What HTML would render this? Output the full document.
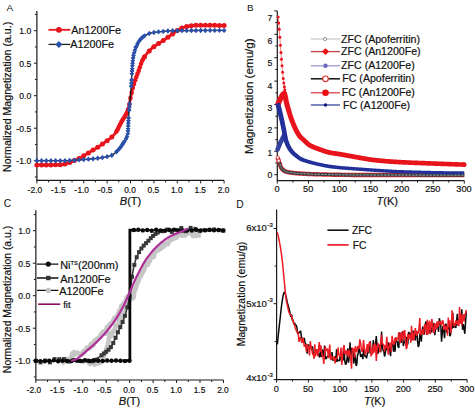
<!DOCTYPE html>
<html><head><meta charset="utf-8"><style>
html,body{margin:0;padding:0;background:#fff;width:475px;height:411px;overflow:hidden}
svg{display:block}
text{font-family:"Liberation Sans",sans-serif;fill:#111;stroke:#111;stroke-width:0.2px}
</style></head><body>
<svg width="475" height="411" viewBox="0 0 475 411">
<rect width="475" height="411" fill="#fff"/>
<path d="M36.9,11 L36.9,180.4 L224,180.4" fill="none" stroke="#1a1a1a" stroke-width="1.2"/>
<path d="M36.9,180.4 V183.4 M60.3,180.4 V183.4 M83.7,180.4 V183.4 M107.1,180.4 V183.4 M130.5,180.4 V183.4 M153.9,180.4 V183.4 M177.3,180.4 V183.4 M200.7,180.4 V183.4 M224.1,180.4 V183.4 M48.6,180.4 V182.4 M72,180.4 V182.4 M95.4,180.4 V182.4 M118.8,180.4 V182.4 M142.2,180.4 V182.4 M165.6,180.4 V182.4 M189,180.4 V182.4 M212.4,180.4 V182.4 M36.9,160.7 H33.9 M36.9,128.2 H33.9 M36.9,95.7 H33.9 M36.9,63.2 H33.9 M36.9,30.7 H33.9 M36.9,176.95 H34.9 M36.9,144.45 H34.9 M36.9,111.95 H34.9 M36.9,79.45 H34.9 M36.9,46.95 H34.9 M36.9,14.45 H34.9 " fill="none" stroke="#1a1a1a" stroke-width="1"/>
<text transform="translate(36.4,193.2) scale(0.93,1)" font-size="9.0" text-anchor="middle">2.0</text>
<text transform="translate(30.34,193.2) scale(0.93,1)" font-size="9.0" text-anchor="end">-</text>
<text transform="translate(59.8,193.2) scale(0.93,1)" font-size="9.0" text-anchor="middle">1.5</text>
<text transform="translate(53.74,193.2) scale(0.93,1)" font-size="9.0" text-anchor="end">-</text>
<text transform="translate(83.2,193.2) scale(0.93,1)" font-size="9.0" text-anchor="middle">1.0</text>
<text transform="translate(77.14,193.2) scale(0.93,1)" font-size="9.0" text-anchor="end">-</text>
<text transform="translate(106.6,193.2) scale(0.93,1)" font-size="9.0" text-anchor="middle">0.5</text>
<text transform="translate(100.54,193.2) scale(0.93,1)" font-size="9.0" text-anchor="end">-</text>
<text transform="translate(130,193.2) scale(0.93,1)" font-size="9.0" text-anchor="middle">0.0</text>
<text transform="translate(153.4,193.2) scale(0.93,1)" font-size="9.0" text-anchor="middle">0.5</text>
<text transform="translate(176.8,193.2) scale(0.93,1)" font-size="9.0" text-anchor="middle">1.0</text>
<text transform="translate(200.2,193.2) scale(0.93,1)" font-size="9.0" text-anchor="middle">1.5</text>
<text transform="translate(223.6,193.2) scale(0.93,1)" font-size="9.0" text-anchor="middle">2.0</text>
<text transform="translate(31.2,164.4) scale(0.92,1)" font-size="9.4" text-anchor="end">-1.0</text>
<text transform="translate(31.2,131.9) scale(0.92,1)" font-size="9.4" text-anchor="end">-0.5</text>
<text transform="translate(31.2,99.4) scale(0.92,1)" font-size="9.4" text-anchor="end">0.0</text>
<text transform="translate(31.2,66.9) scale(0.92,1)" font-size="9.4" text-anchor="end">0.5</text>
<text transform="translate(31.2,34.4) scale(0.92,1)" font-size="9.4" text-anchor="end">1.0</text>
<text x="6.4" y="11" font-size="9.9" text-anchor="start" style="stroke:none">A</text>
<text transform="translate(11.3,96.9) rotate(-90)" font-size="10.6" text-anchor="middle">Normalized Magnetization (a.u.)</text>
<text x="130.5" y="204.8" font-size="11.0" text-anchor="middle"><tspan font-style="italic">B</tspan>(T)</text>
<path d="M36.9,164.93 L37.13,164.92 L37.37,164.92 L37.6,164.92 L37.84,164.92 L38.07,164.92 L38.3,164.92 L38.54,164.92 L38.77,164.92 L39.01,164.92 L39.24,164.92 L39.47,164.92 L39.71,164.92 L39.94,164.92 L40.18,164.92 L40.41,164.92 L40.64,164.92 L40.88,164.92 L41.11,164.92 L41.35,164.92 L41.58,164.92 L41.81,164.92 L42.05,164.92 L42.28,164.92 L42.52,164.92 L42.75,164.92 L42.98,164.92 L43.22,164.92 L43.45,164.92 L43.69,164.91 L43.92,164.91 L44.15,164.91 L44.39,164.91 L44.62,164.91 L44.86,164.91 L45.09,164.91 L45.32,164.91 L45.56,164.91 L45.79,164.91 L46.03,164.91 L46.26,164.91 L46.49,164.9 L46.73,164.9 L46.96,164.9 L47.2,164.9 L47.43,164.9 L47.66,164.9 L47.9,164.9 L48.13,164.9 L48.37,164.89 L48.6,164.89 L48.83,164.89 L49.07,164.89 L49.3,164.89 L49.54,164.89 L49.77,164.89 L50,164.89 L50.24,164.88 L50.47,164.88 L50.71,164.88 L50.94,164.88 L51.17,164.88 L51.41,164.88 L51.64,164.87 L51.88,164.87 L52.11,164.87 L52.34,164.87 L52.58,164.87 L52.81,164.87 L53.05,164.86 L53.28,164.86 L53.51,164.86 L53.75,164.86 L53.98,164.86 L54.22,164.85 L54.45,164.85 L54.68,164.85 L54.92,164.85 L55.15,164.85 L55.39,164.84 L55.62,164.84 L55.85,164.84 L56.09,164.84 L56.32,164.83 L56.56,164.83 L56.79,164.83 L57.02,164.83 L57.26,164.83 L57.49,164.82 L57.73,164.82 L57.96,164.82 L58.19,164.82 L58.43,164.81 L58.66,164.81 L58.9,164.81 L59.13,164.81 L59.36,164.8 L59.6,164.8 L59.83,164.8 L60.07,164.79 L60.3,164.79 L60.53,164.78 L60.77,164.77 L61,164.75 L61.24,164.73 L61.47,164.71 L61.7,164.69 L61.94,164.66 L62.17,164.63 L62.41,164.59 L62.64,164.56 L62.87,164.51 L63.11,164.47 L63.34,164.43 L63.58,164.38 L63.81,164.33 L64.04,164.28 L64.28,164.22 L64.51,164.16 L64.75,164.1 L64.98,164.04 L65.21,163.98 L65.45,163.91 L65.68,163.84 L65.92,163.77 L66.15,163.7 L66.38,163.62 L66.62,163.55 L66.85,163.47 L67.09,163.39 L67.32,163.31 L67.55,163.23 L67.79,163.15 L68.02,163.06 L68.26,162.98 L68.49,162.89 L68.72,162.8 L68.96,162.72 L69.19,162.63 L69.43,162.54 L69.66,162.44 L69.89,162.35 L70.13,162.26 L70.36,162.17 L70.6,162.07 L70.83,161.98 L71.06,161.88 L71.3,161.79 L71.53,161.69 L71.77,161.6 L72,161.5 L72.23,161.41 L72.47,161.31 L72.7,161.22 L72.94,161.12 L73.17,161.03 L73.4,160.93 L73.64,160.84 L73.87,160.74 L74.11,160.65 L74.34,160.56 L74.57,160.47 L74.81,160.38 L75.04,160.28 L75.28,160.19 L75.51,160.09 L75.74,160 L75.98,159.9 L76.21,159.79 L76.45,159.69 L76.68,159.58 L76.91,159.48 L77.15,159.37 L77.38,159.26 L77.62,159.14 L77.85,159.03 L78.08,158.91 L78.32,158.8 L78.55,158.68 L78.79,158.56 L79.02,158.44 L79.25,158.31 L79.49,158.19 L79.72,158.06 L79.96,157.94 L80.19,157.81 L80.42,157.68 L80.66,157.55 L80.89,157.42 L81.13,157.29 L81.36,157.15 L81.59,157.02 L81.83,156.88 L82.06,156.75 L82.3,156.61 L82.53,156.47 L82.76,156.34 L83,156.2 L83.23,156.06 L83.47,155.92 L83.7,155.78 L83.93,155.64 L84.17,155.5 L84.4,155.35 L84.64,155.21 L84.87,155.07 L85.1,154.93 L85.34,154.78 L85.57,154.64 L85.81,154.5 L86.04,154.35 L86.27,154.21 L86.51,154.07 L86.74,153.92 L86.98,153.78 L87.21,153.64 L87.44,153.49 L87.68,153.35 L87.91,153.21 L88.15,153.07 L88.38,152.93 L88.61,152.78 L88.85,152.64 L89.08,152.5 L89.32,152.36 L89.55,152.22 L89.78,152.08 L90.02,151.94 L90.25,151.8 L90.49,151.66 L90.72,151.52 L90.95,151.38 L91.19,151.24 L91.42,151.1 L91.66,150.96 L91.89,150.82 L92.12,150.68 L92.36,150.54 L92.59,150.4 L92.83,150.26 L93.06,150.11 L93.29,149.97 L93.53,149.83 L93.76,149.69 L94,149.54 L94.23,149.4 L94.46,149.26 L94.7,149.11 L94.93,148.97 L95.17,148.82 L95.4,148.68 L95.63,148.53 L95.87,148.38 L96.1,148.24 L96.34,148.09 L96.57,147.94 L96.8,147.79 L97.04,147.64 L97.27,147.5 L97.51,147.35 L97.74,147.2 L97.97,147.04 L98.21,146.89 L98.44,146.74 L98.68,146.59 L98.91,146.43 L99.14,146.28 L99.38,146.12 L99.61,145.97 L99.85,145.81 L100.08,145.66 L100.31,145.5 L100.55,145.34 L100.78,145.18 L101.02,145.02 L101.25,144.86 L101.48,144.7 L101.72,144.54 L101.95,144.37 L102.19,144.21 L102.42,144.05 L102.65,143.88 L102.89,143.71 L103.12,143.55 L103.36,143.38 L103.59,143.21 L103.82,143.04 L104.06,142.87 L104.29,142.69 L104.53,142.52 L104.76,142.35 L104.99,142.18 L105.23,142.01 L105.46,141.85 L105.7,141.68 L105.93,141.51 L106.16,141.34 L106.4,141.18 L106.63,141.01 L106.87,140.84 L107.1,140.67 L107.33,140.51 L107.57,140.34 L107.8,140.17 L108.04,140 L108.27,139.82 L108.5,139.65 L108.74,139.47 L108.97,139.3 L109.21,139.12 L109.44,138.94 L109.67,138.75 L109.91,138.57 L110.14,138.38 L110.38,138.19 L110.61,137.99 L110.84,137.8 L111.08,137.6 L111.31,137.39 L111.55,137.19 L111.78,136.98 L112.01,136.76 L112.25,136.54 L112.48,136.32 L112.72,136.1 L112.95,135.86 L113.18,135.63 L113.42,135.39 L113.65,135.14 L113.89,134.89 L114.12,134.64 L114.35,134.38 L114.59,134.11 L114.82,133.84 L115.06,133.55 L115.29,133.25 L115.52,132.94 L115.76,132.6 L115.99,132.25 L116.23,131.88 L116.46,131.49 L116.69,131.09 L116.93,130.68 L117.16,130.26 L117.4,129.83 L117.63,129.39 L117.86,128.94 L118.1,128.48 L118.33,128.02 L118.57,127.55 L118.8,127.08 L119.03,126.61 L119.27,126.13 L119.5,125.65 L119.74,125.18 L119.97,124.7 L120.2,124.23 L120.44,123.76 L120.67,123.29 L120.91,122.84 L121.14,122.38 L121.37,121.94 L121.61,121.5 L121.84,121.08 L122.08,120.68 L122.31,120.28 L122.54,119.9 L122.78,119.52 L123.01,119.16 L123.25,118.8 L123.48,118.44 L123.71,118.09 L123.95,117.73 L124.18,117.38 L124.42,117.02 L124.65,116.66 L124.88,116.29 L125.12,115.91 L125.35,115.53 L125.59,115.13 L125.82,114.71 L126.05,114.28 L126.29,113.84 L126.52,113.37 L126.76,112.88 L126.99,112.37 L127.22,111.84 L127.46,111.28 L127.69,110.69 L127.93,110.07 L128.16,109.42 L128.39,108.69 L128.63,107.79 L128.86,106.75 L129.1,105.59 L129.33,104.36 L129.56,103.08 L129.8,101.78 L130.03,100.49 L130.27,99.24 L130.5,98.07 L130.73,96.99 L130.97,95.95 L131.2,94.91 L131.44,93.89 L131.67,92.87 L131.9,91.87 L132.14,90.89 L132.37,89.92 L132.61,88.98 L132.84,88.06 L133.07,87.16 L133.31,86.3 L133.54,85.46 L133.78,84.66 L134.01,83.88 L134.24,83.12 L134.48,82.38 L134.71,81.66 L134.95,80.95 L135.18,80.26 L135.41,79.58 L135.65,78.91 L135.88,78.25 L136.12,77.61 L136.35,76.97 L136.58,76.33 L136.82,75.7 L137.05,75.08 L137.29,74.45 L137.52,73.83 L137.75,73.21 L137.99,72.58 L138.22,71.95 L138.46,71.32 L138.69,70.67 L138.92,70.02 L139.16,69.36 L139.39,68.67 L139.63,67.98 L139.86,67.27 L140.09,66.55 L140.33,65.84 L140.56,65.14 L140.8,64.44 L141.03,63.77 L141.26,63.11 L141.5,62.49 L141.73,61.89 L141.97,61.34 L142.2,60.82 L142.43,60.36 L142.67,59.94 L142.9,59.52 L143.14,59.11 L143.37,58.72 L143.6,58.33 L143.84,57.94 L144.07,57.57 L144.31,57.2 L144.54,56.84 L144.77,56.49 L145.01,56.14 L145.24,55.8 L145.48,55.47 L145.71,55.14 L145.94,54.82 L146.18,54.51 L146.41,54.2 L146.65,53.9 L146.88,53.6 L147.11,53.31 L147.35,53.03 L147.58,52.75 L147.82,52.47 L148.05,52.2 L148.28,51.94 L148.52,51.68 L148.75,51.42 L148.99,51.17 L149.22,50.92 L149.45,50.68 L149.69,50.44 L149.92,50.2 L150.16,49.97 L150.39,49.74 L150.62,49.51 L150.86,49.29 L151.09,49.07 L151.33,48.85 L151.56,48.64 L151.79,48.42 L152.03,48.21 L152.26,48 L152.5,47.79 L152.73,47.59 L152.96,47.39 L153.2,47.19 L153.43,47 L153.67,46.81 L153.9,46.63 L154.13,46.45 L154.37,46.27 L154.6,46.09 L154.84,45.92 L155.07,45.75 L155.3,45.59 L155.54,45.42 L155.77,45.26 L156.01,45.1 L156.24,44.94 L156.47,44.79 L156.71,44.63 L156.94,44.48 L157.18,44.33 L157.41,44.18 L157.64,44.03 L157.88,43.89 L158.11,43.74 L158.35,43.6 L158.58,43.45 L158.81,43.31 L159.05,43.16 L159.28,43.02 L159.52,42.88 L159.75,42.73 L159.98,42.59 L160.22,42.44 L160.45,42.3 L160.69,42.15 L160.92,42 L161.15,41.86 L161.39,41.71 L161.62,41.55 L161.86,41.4 L162.09,41.25 L162.32,41.09 L162.56,40.93 L162.79,40.78 L163.03,40.61 L163.26,40.45 L163.49,40.29 L163.73,40.13 L163.96,39.96 L164.2,39.8 L164.43,39.64 L164.66,39.47 L164.9,39.31 L165.13,39.14 L165.37,38.98 L165.6,38.81 L165.83,38.65 L166.07,38.48 L166.3,38.31 L166.54,38.15 L166.77,37.98 L167,37.82 L167.24,37.65 L167.47,37.49 L167.71,37.32 L167.94,37.16 L168.17,36.99 L168.41,36.83 L168.64,36.66 L168.88,36.5 L169.11,36.33 L169.34,36.17 L169.58,36.01 L169.81,35.85 L170.05,35.68 L170.28,35.52 L170.51,35.36 L170.75,35.2 L170.98,35.04 L171.22,34.89 L171.45,34.73 L171.68,34.57 L171.92,34.41 L172.15,34.26 L172.39,34.1 L172.62,33.95 L172.85,33.8 L173.09,33.64 L173.32,33.48 L173.56,33.32 L173.79,33.15 L174.02,32.99 L174.26,32.82 L174.49,32.65 L174.73,32.48 L174.96,32.31 L175.19,32.14 L175.43,31.97 L175.66,31.8 L175.9,31.63 L176.13,31.46 L176.36,31.29 L176.6,31.12 L176.83,30.95 L177.07,30.78 L177.3,30.62 L177.53,30.45 L177.77,30.29 L178,30.13 L178.24,29.97 L178.47,29.81 L178.7,29.66 L178.94,29.51 L179.17,29.36 L179.41,29.21 L179.64,29.07 L179.87,28.93 L180.11,28.8 L180.34,28.67 L180.58,28.55 L180.81,28.42 L181.04,28.31 L181.28,28.2 L181.51,28.09 L181.75,27.99 L181.98,27.9 L182.21,27.81 L182.45,27.73 L182.68,27.65 L182.92,27.58 L183.15,27.51 L183.38,27.45 L183.62,27.38 L183.85,27.32 L184.09,27.25 L184.32,27.19 L184.55,27.12 L184.79,27.06 L185.02,27 L185.26,26.93 L185.49,26.87 L185.72,26.81 L185.96,26.75 L186.19,26.69 L186.43,26.63 L186.66,26.57 L186.89,26.51 L187.13,26.46 L187.36,26.4 L187.6,26.35 L187.83,26.29 L188.06,26.24 L188.3,26.19 L188.53,26.14 L188.77,26.09 L189,26.04 L189.23,25.99 L189.47,25.95 L189.7,25.9 L189.94,25.86 L190.17,25.82 L190.4,25.78 L190.64,25.74 L190.87,25.7 L191.11,25.66 L191.34,25.63 L191.57,25.6 L191.81,25.56 L192.04,25.53 L192.28,25.51 L192.51,25.48 L192.74,25.45 L192.98,25.43 L193.21,25.41 L193.45,25.39 L193.68,25.37 L193.91,25.36 L194.15,25.34 L194.38,25.33 L194.62,25.32 L194.85,25.31 L195.08,25.31 L195.32,25.31 L195.55,25.31 L195.79,25.31 L196.02,25.31 L196.25,25.31 L196.49,25.31 L196.72,25.31 L196.96,25.31 L197.19,25.31 L197.42,25.31 L197.66,25.31 L197.89,25.31 L198.13,25.31 L198.36,25.31 L198.59,25.31 L198.83,25.31 L199.06,25.31 L199.3,25.31 L199.53,25.31 L199.76,25.31 L200,25.31 L200.23,25.31 L200.47,25.31 L200.7,25.31 L200.93,25.31 L201.17,25.31 L201.4,25.31 L201.64,25.31 L201.87,25.31 L202.1,25.31 L202.34,25.31 L202.57,25.31 L202.81,25.31 L203.04,25.31 L203.27,25.31 L203.51,25.31 L203.74,25.31 L203.98,25.31 L204.21,25.31 L204.44,25.31 L204.68,25.31 L204.91,25.31 L205.15,25.31 L205.38,25.31 L205.61,25.31 L205.85,25.31 L206.08,25.31 L206.32,25.32 L206.55,25.32 L206.78,25.32 L207.02,25.32 L207.25,25.32 L207.49,25.32 L207.72,25.32 L207.95,25.32 L208.19,25.32 L208.42,25.32 L208.66,25.32 L208.89,25.32 L209.12,25.33 L209.36,25.33 L209.59,25.33 L209.83,25.33 L210.06,25.33 L210.29,25.33 L210.53,25.33 L210.76,25.33 L211,25.34 L211.23,25.34 L211.46,25.34 L211.7,25.34 L211.93,25.34 L212.17,25.34 L212.4,25.35 L212.63,25.35 L212.87,25.35 L213.1,25.35 L213.34,25.35 L213.57,25.35 L213.8,25.36 L214.04,25.36 L214.27,25.36 L214.51,25.36 L214.74,25.36 L214.97,25.37 L215.21,25.37 L215.44,25.37 L215.68,25.37 L215.91,25.38 L216.14,25.38 L216.38,25.38 L216.61,25.38 L216.85,25.39 L217.08,25.39 L217.31,25.39 L217.55,25.39 L217.78,25.4 L218.02,25.4 L218.25,25.4 L218.48,25.41 L218.72,25.41 L218.95,25.41 L219.19,25.42 L219.42,25.42 L219.65,25.42 L219.89,25.43 L220.12,25.43 L220.36,25.43 L220.59,25.44 L220.82,25.44 L221.06,25.44 L221.29,25.45 L221.53,25.45 L221.76,25.46 L221.99,25.46 L222.23,25.46 L222.46,25.47 L222.7,25.47 L222.93,25.48 L223.16,25.48 L223.4,25.49 L223.63,25.49 L223.87,25.5 L224.1,25.5" fill="none" stroke="#e8141c" stroke-width="2.8"/>
<g fill="#e8141c"><circle cx="36.9" cy="164.93" r="2.5"/><circle cx="41.58" cy="164.92" r="2.5"/><circle cx="46.26" cy="164.91" r="2.5"/><circle cx="50.94" cy="164.88" r="2.5"/><circle cx="55.62" cy="164.84" r="2.5"/><circle cx="60.3" cy="164.79" r="2.5"/><circle cx="64.98" cy="164.04" r="2.5"/><circle cx="69.66" cy="162.44" r="2.5"/><circle cx="74.34" cy="160.56" r="2.5"/><circle cx="79.02" cy="158.44" r="2.5"/><circle cx="83.7" cy="155.78" r="2.5"/><circle cx="88.38" cy="152.93" r="2.5"/><circle cx="93.06" cy="150.11" r="2.5"/><circle cx="97.74" cy="147.2" r="2.5"/><circle cx="102.42" cy="144.05" r="2.5"/><circle cx="107.1" cy="140.67" r="2.5"/><circle cx="111.78" cy="136.98" r="2.5"/><circle cx="144.54" cy="56.84" r="2.5"/><circle cx="149.22" cy="50.92" r="2.5"/><circle cx="153.9" cy="46.63" r="2.5"/><circle cx="158.58" cy="43.45" r="2.5"/><circle cx="163.26" cy="40.45" r="2.5"/><circle cx="167.94" cy="37.16" r="2.5"/><circle cx="172.62" cy="33.95" r="2.5"/><circle cx="177.3" cy="30.62" r="2.5"/><circle cx="181.98" cy="27.9" r="2.5"/><circle cx="186.66" cy="26.57" r="2.5"/><circle cx="191.34" cy="25.63" r="2.5"/><circle cx="196.02" cy="25.31" r="2.5"/><circle cx="200.7" cy="25.31" r="2.5"/><circle cx="205.38" cy="25.31" r="2.5"/><circle cx="210.06" cy="25.33" r="2.5"/><circle cx="214.74" cy="25.36" r="2.5"/><circle cx="219.42" cy="25.42" r="2.5"/><circle cx="224.1" cy="25.5" r="2.5"/><circle cx="116.46" cy="131.49" r="2.3"/><circle cx="117.63" cy="129.39" r="2.3"/><circle cx="118.8" cy="127.08" r="2.3"/><circle cx="119.97" cy="124.7" r="2.3"/><circle cx="121.14" cy="122.38" r="2.3"/><circle cx="122.31" cy="120.28" r="2.3"/><circle cx="123.48" cy="118.44" r="2.3"/><circle cx="124.65" cy="116.66" r="2.3"/><circle cx="125.82" cy="114.71" r="2.3"/><circle cx="126.99" cy="112.37" r="2.3"/><circle cx="128.16" cy="109.42" r="2.3"/><circle cx="129.33" cy="104.36" r="2.3"/><circle cx="130.5" cy="98.07" r="2.3"/><circle cx="131.67" cy="92.87" r="2.3"/><circle cx="132.84" cy="88.06" r="2.3"/><circle cx="134.01" cy="83.88" r="2.3"/><circle cx="135.18" cy="80.26" r="2.3"/><circle cx="136.35" cy="76.97" r="2.3"/><circle cx="137.52" cy="73.83" r="2.3"/><circle cx="138.69" cy="70.67" r="2.3"/><circle cx="139.86" cy="67.27" r="2.3"/><circle cx="141.03" cy="63.77" r="2.3"/><circle cx="142.2" cy="60.82" r="2.3"/><circle cx="143.37" cy="58.72" r="2.3"/></g>
<path d="M36.9,160.7 L37.13,160.7 L37.37,160.7 L37.6,160.7 L37.84,160.7 L38.07,160.7 L38.3,160.7 L38.54,160.7 L38.77,160.7 L39.01,160.7 L39.24,160.7 L39.47,160.7 L39.71,160.7 L39.94,160.7 L40.18,160.7 L40.41,160.7 L40.64,160.7 L40.88,160.7 L41.11,160.7 L41.35,160.7 L41.58,160.7 L41.81,160.7 L42.05,160.7 L42.28,160.7 L42.52,160.7 L42.75,160.7 L42.98,160.7 L43.22,160.7 L43.45,160.7 L43.69,160.7 L43.92,160.7 L44.15,160.7 L44.39,160.7 L44.62,160.7 L44.86,160.7 L45.09,160.7 L45.32,160.7 L45.56,160.7 L45.79,160.7 L46.03,160.7 L46.26,160.7 L46.49,160.7 L46.73,160.7 L46.96,160.7 L47.2,160.7 L47.43,160.7 L47.66,160.7 L47.9,160.7 L48.13,160.7 L48.37,160.7 L48.6,160.7 L48.83,160.7 L49.07,160.7 L49.3,160.7 L49.54,160.7 L49.77,160.7 L50,160.7 L50.24,160.7 L50.47,160.7 L50.71,160.7 L50.94,160.7 L51.17,160.7 L51.41,160.7 L51.64,160.7 L51.88,160.7 L52.11,160.7 L52.34,160.7 L52.58,160.7 L52.81,160.7 L53.05,160.7 L53.28,160.7 L53.51,160.7 L53.75,160.7 L53.98,160.7 L54.22,160.7 L54.45,160.7 L54.68,160.7 L54.92,160.7 L55.15,160.7 L55.39,160.7 L55.62,160.7 L55.85,160.7 L56.09,160.7 L56.32,160.7 L56.56,160.7 L56.79,160.7 L57.02,160.7 L57.26,160.7 L57.49,160.7 L57.73,160.7 L57.96,160.7 L58.19,160.7 L58.43,160.7 L58.66,160.7 L58.9,160.7 L59.13,160.7 L59.36,160.7 L59.6,160.7 L59.83,160.7 L60.07,160.7 L60.3,160.7 L60.53,160.7 L60.77,160.7 L61,160.7 L61.24,160.7 L61.47,160.7 L61.7,160.69 L61.94,160.69 L62.17,160.69 L62.41,160.69 L62.64,160.68 L62.87,160.68 L63.11,160.68 L63.34,160.67 L63.58,160.67 L63.81,160.67 L64.04,160.66 L64.28,160.66 L64.51,160.65 L64.75,160.65 L64.98,160.64 L65.21,160.64 L65.45,160.63 L65.68,160.62 L65.92,160.62 L66.15,160.61 L66.38,160.6 L66.62,160.59 L66.85,160.59 L67.09,160.58 L67.32,160.57 L67.55,160.56 L67.79,160.55 L68.02,160.55 L68.26,160.54 L68.49,160.53 L68.72,160.52 L68.96,160.51 L69.19,160.5 L69.43,160.49 L69.66,160.48 L69.89,160.47 L70.13,160.46 L70.36,160.45 L70.6,160.43 L70.83,160.42 L71.06,160.41 L71.3,160.4 L71.53,160.39 L71.77,160.38 L72,160.36 L72.23,160.35 L72.47,160.34 L72.7,160.32 L72.94,160.31 L73.17,160.3 L73.4,160.28 L73.64,160.27 L73.87,160.26 L74.11,160.24 L74.34,160.23 L74.57,160.22 L74.81,160.2 L75.04,160.19 L75.28,160.17 L75.51,160.16 L75.74,160.14 L75.98,160.13 L76.21,160.11 L76.45,160.1 L76.68,160.08 L76.91,160.06 L77.15,160.05 L77.38,160.03 L77.62,160.02 L77.85,160 L78.08,159.98 L78.32,159.97 L78.55,159.95 L78.79,159.93 L79.02,159.92 L79.25,159.9 L79.49,159.88 L79.72,159.86 L79.96,159.85 L80.19,159.83 L80.42,159.81 L80.66,159.79 L80.89,159.78 L81.13,159.76 L81.36,159.74 L81.59,159.72 L81.83,159.7 L82.06,159.69 L82.3,159.67 L82.53,159.65 L82.76,159.63 L83,159.61 L83.23,159.59 L83.47,159.57 L83.7,159.56 L83.93,159.54 L84.17,159.52 L84.4,159.5 L84.64,159.48 L84.87,159.46 L85.1,159.44 L85.34,159.42 L85.57,159.4 L85.81,159.38 L86.04,159.36 L86.27,159.35 L86.51,159.33 L86.74,159.31 L86.98,159.29 L87.21,159.27 L87.44,159.25 L87.68,159.23 L87.91,159.21 L88.15,159.19 L88.38,159.17 L88.61,159.15 L88.85,159.13 L89.08,159.11 L89.32,159.09 L89.55,159.07 L89.78,159.05 L90.02,159.03 L90.25,159.01 L90.49,158.99 L90.72,158.97 L90.95,158.95 L91.19,158.93 L91.42,158.91 L91.66,158.89 L91.89,158.87 L92.12,158.85 L92.36,158.83 L92.59,158.81 L92.83,158.78 L93.06,158.76 L93.29,158.74 L93.53,158.72 L93.76,158.69 L94,158.67 L94.23,158.65 L94.46,158.63 L94.7,158.6 L94.93,158.58 L95.17,158.55 L95.4,158.53 L95.63,158.5 L95.87,158.48 L96.1,158.45 L96.34,158.43 L96.57,158.4 L96.8,158.38 L97.04,158.35 L97.27,158.32 L97.51,158.29 L97.74,158.26 L97.97,158.24 L98.21,158.21 L98.44,158.18 L98.68,158.15 L98.91,158.12 L99.14,158.09 L99.38,158.05 L99.61,158.02 L99.85,157.99 L100.08,157.96 L100.31,157.92 L100.55,157.89 L100.78,157.85 L101.02,157.82 L101.25,157.78 L101.48,157.75 L101.72,157.71 L101.95,157.67 L102.19,157.63 L102.42,157.59 L102.65,157.56 L102.89,157.52 L103.12,157.47 L103.36,157.43 L103.59,157.39 L103.82,157.35 L104.06,157.3 L104.29,157.26 L104.53,157.21 L104.76,157.17 L104.99,157.12 L105.23,157.08 L105.46,157.03 L105.7,156.98 L105.93,156.93 L106.16,156.88 L106.4,156.83 L106.63,156.78 L106.87,156.72 L107.1,156.67 L107.33,156.61 L107.57,156.56 L107.8,156.5 L108.04,156.45 L108.27,156.39 L108.5,156.33 L108.74,156.27 L108.97,156.21 L109.21,156.15 L109.44,156.08 L109.67,156.02 L109.91,155.96 L110.14,155.89 L110.38,155.82 L110.61,155.75 L110.84,155.67 L111.08,155.58 L111.31,155.48 L111.55,155.37 L111.78,155.26 L112.01,155.13 L112.25,155 L112.48,154.86 L112.72,154.72 L112.95,154.57 L113.18,154.41 L113.42,154.24 L113.65,154.07 L113.89,153.89 L114.12,153.71 L114.35,153.53 L114.59,153.34 L114.82,153.14 L115.06,152.94 L115.29,152.74 L115.52,152.54 L115.76,152.33 L115.99,152.12 L116.23,151.91 L116.46,151.69 L116.69,151.48 L116.93,151.26 L117.16,151.04 L117.4,150.82 L117.63,150.6 L117.86,150.37 L118.1,150.13 L118.33,149.88 L118.57,149.63 L118.8,149.37 L119.03,149.1 L119.27,148.83 L119.5,148.54 L119.74,148.26 L119.97,147.96 L120.2,147.66 L120.44,147.35 L120.67,147.04 L120.91,146.72 L121.14,146.39 L121.37,146.06 L121.61,145.72 L121.84,145.37 L122.08,145.02 L122.31,144.66 L122.54,144.3 L122.78,143.93 L123.01,143.56 L123.25,143.18 L123.48,142.79 L123.71,142.4 L123.95,142.01 L124.18,141.61 L124.42,141.2 L124.65,140.81 L124.88,140.47 L125.12,140.14 L125.35,139.82 L125.59,139.5 L125.82,139.16 L126.05,138.79 L126.29,138.37 L126.52,137.89 L126.76,137.34 L126.99,136.71 L127.22,135.97 L127.46,135.13 L127.69,134.15 L127.93,132.4 L128.16,127.95 L128.39,122.19 L128.63,116.84 L128.86,113.12 L129.1,109.96 L129.33,107.11 L129.56,104.5 L129.8,102.04 L130.03,99.67 L130.27,97.3 L130.5,94.86 L130.73,92.27 L130.97,89.45 L131.2,86.33 L131.44,82.69 L131.67,78.28 L131.9,73.72 L132.14,69.7 L132.37,66.16 L132.61,62.84 L132.84,60.11 L133.07,58.26 L133.31,56.77 L133.54,55.44 L133.78,54.25 L134.01,53.2 L134.24,52.25 L134.48,51.4 L134.71,50.62 L134.95,49.9 L135.18,49.22 L135.41,48.58 L135.65,47.95 L135.88,47.35 L136.12,46.77 L136.35,46.21 L136.58,45.67 L136.82,45.16 L137.05,44.66 L137.29,44.19 L137.52,43.74 L137.75,43.3 L137.99,42.88 L138.22,42.48 L138.46,42.1 L138.69,41.73 L138.92,41.38 L139.16,41.04 L139.39,40.72 L139.63,40.42 L139.86,40.12 L140.09,39.84 L140.33,39.57 L140.56,39.3 L140.8,39.04 L141.03,38.79 L141.26,38.54 L141.5,38.3 L141.73,38.07 L141.97,37.85 L142.2,37.63 L142.43,37.42 L142.67,37.22 L142.9,37.02 L143.14,36.83 L143.37,36.65 L143.6,36.48 L143.84,36.31 L144.07,36.15 L144.31,36 L144.54,35.85 L144.77,35.71 L145.01,35.58 L145.24,35.45 L145.48,35.32 L145.71,35.19 L145.94,35.07 L146.18,34.94 L146.41,34.82 L146.65,34.7 L146.88,34.59 L147.11,34.47 L147.35,34.36 L147.58,34.25 L147.82,34.14 L148.05,34.03 L148.28,33.93 L148.52,33.83 L148.75,33.73 L148.99,33.64 L149.22,33.55 L149.45,33.46 L149.69,33.37 L149.92,33.29 L150.16,33.21 L150.39,33.14 L150.62,33.07 L150.86,33 L151.09,32.94 L151.33,32.88 L151.56,32.83 L151.79,32.77 L152.03,32.73 L152.26,32.69 L152.5,32.65 L152.73,32.62 L152.96,32.58 L153.2,32.55 L153.43,32.51 L153.67,32.48 L153.9,32.45 L154.13,32.41 L154.37,32.38 L154.6,32.35 L154.84,32.32 L155.07,32.29 L155.3,32.26 L155.54,32.23 L155.77,32.2 L156.01,32.17 L156.24,32.14 L156.47,32.11 L156.71,32.08 L156.94,32.05 L157.18,32.02 L157.41,31.99 L157.64,31.96 L157.88,31.94 L158.11,31.91 L158.35,31.88 L158.58,31.86 L158.81,31.83 L159.05,31.8 L159.28,31.78 L159.52,31.75 L159.75,31.73 L159.98,31.7 L160.22,31.68 L160.45,31.66 L160.69,31.63 L160.92,31.61 L161.15,31.59 L161.39,31.56 L161.62,31.54 L161.86,31.52 L162.09,31.5 L162.32,31.47 L162.56,31.45 L162.79,31.43 L163.03,31.41 L163.26,31.39 L163.49,31.37 L163.73,31.35 L163.96,31.33 L164.2,31.31 L164.43,31.29 L164.66,31.28 L164.9,31.26 L165.13,31.24 L165.37,31.22 L165.6,31.2 L165.83,31.19 L166.07,31.17 L166.3,31.15 L166.54,31.14 L166.77,31.12 L167,31.11 L167.24,31.09 L167.47,31.08 L167.71,31.06 L167.94,31.05 L168.17,31.03 L168.41,31.02 L168.64,31.01 L168.88,30.99 L169.11,30.98 L169.34,30.97 L169.58,30.95 L169.81,30.94 L170.05,30.93 L170.28,30.92 L170.51,30.91 L170.75,30.9 L170.98,30.89 L171.22,30.88 L171.45,30.87 L171.68,30.86 L171.92,30.85 L172.15,30.84 L172.39,30.83 L172.62,30.82 L172.85,30.81 L173.09,30.8 L173.32,30.79 L173.56,30.79 L173.79,30.78 L174.02,30.77 L174.26,30.76 L174.49,30.76 L174.73,30.75 L174.96,30.75 L175.19,30.74 L175.43,30.73 L175.66,30.73 L175.9,30.72 L176.13,30.72 L176.36,30.72 L176.6,30.71 L176.83,30.71 L177.07,30.7 L177.3,30.7 L177.53,30.7 L177.77,30.69 L178,30.69 L178.24,30.69 L178.47,30.68 L178.7,30.68 L178.94,30.68 L179.17,30.67 L179.41,30.67 L179.64,30.67 L179.87,30.67 L180.11,30.66 L180.34,30.66 L180.58,30.66 L180.81,30.65 L181.04,30.65 L181.28,30.65 L181.51,30.64 L181.75,30.64 L181.98,30.64 L182.21,30.64 L182.45,30.63 L182.68,30.63 L182.92,30.63 L183.15,30.62 L183.38,30.62 L183.62,30.62 L183.85,30.62 L184.09,30.61 L184.32,30.61 L184.55,30.61 L184.79,30.6 L185.02,30.6 L185.26,30.6 L185.49,30.6 L185.72,30.59 L185.96,30.59 L186.19,30.59 L186.43,30.59 L186.66,30.58 L186.89,30.58 L187.13,30.58 L187.36,30.57 L187.6,30.57 L187.83,30.57 L188.06,30.57 L188.3,30.56 L188.53,30.56 L188.77,30.56 L189,30.56 L189.23,30.55 L189.47,30.55 L189.7,30.55 L189.94,30.55 L190.17,30.55 L190.4,30.54 L190.64,30.54 L190.87,30.54 L191.11,30.54 L191.34,30.53 L191.57,30.53 L191.81,30.53 L192.04,30.53 L192.28,30.52 L192.51,30.52 L192.74,30.52 L192.98,30.52 L193.21,30.52 L193.45,30.51 L193.68,30.51 L193.91,30.51 L194.15,30.51 L194.38,30.51 L194.62,30.5 L194.85,30.5 L195.08,30.5 L195.32,30.5 L195.55,30.5 L195.79,30.49 L196.02,30.49 L196.25,30.49 L196.49,30.49 L196.72,30.49 L196.96,30.48 L197.19,30.48 L197.42,30.48 L197.66,30.48 L197.89,30.48 L198.13,30.47 L198.36,30.47 L198.59,30.47 L198.83,30.47 L199.06,30.47 L199.3,30.47 L199.53,30.46 L199.76,30.46 L200,30.46 L200.23,30.46 L200.47,30.46 L200.7,30.46 L200.93,30.45 L201.17,30.45 L201.4,30.45 L201.64,30.45 L201.87,30.45 L202.1,30.45 L202.34,30.44 L202.57,30.44 L202.81,30.44 L203.04,30.44 L203.27,30.44 L203.51,30.44 L203.74,30.44 L203.98,30.43 L204.21,30.43 L204.44,30.43 L204.68,30.43 L204.91,30.43 L205.15,30.43 L205.38,30.43 L205.61,30.43 L205.85,30.42 L206.08,30.42 L206.32,30.42 L206.55,30.42 L206.78,30.42 L207.02,30.42 L207.25,30.42 L207.49,30.42 L207.72,30.41 L207.95,30.41 L208.19,30.41 L208.42,30.41 L208.66,30.41 L208.89,30.41 L209.12,30.41 L209.36,30.41 L209.59,30.41 L209.83,30.41 L210.06,30.4 L210.29,30.4 L210.53,30.4 L210.76,30.4 L211,30.4 L211.23,30.4 L211.46,30.4 L211.7,30.4 L211.93,30.4 L212.17,30.4 L212.4,30.4 L212.63,30.39 L212.87,30.39 L213.1,30.39 L213.34,30.39 L213.57,30.39 L213.8,30.39 L214.04,30.39 L214.27,30.39 L214.51,30.39 L214.74,30.39 L214.97,30.39 L215.21,30.39 L215.44,30.39 L215.68,30.39 L215.91,30.38 L216.14,30.38 L216.38,30.38 L216.61,30.38 L216.85,30.38 L217.08,30.38 L217.31,30.38 L217.55,30.38 L217.78,30.38 L218.02,30.38 L218.25,30.38 L218.48,30.38 L218.72,30.38 L218.95,30.38 L219.19,30.38 L219.42,30.38 L219.65,30.38 L219.89,30.38 L220.12,30.38 L220.36,30.38 L220.59,30.38 L220.82,30.38 L221.06,30.38 L221.29,30.38 L221.53,30.38 L221.76,30.38 L221.99,30.38 L222.23,30.38 L222.46,30.38 L222.7,30.38 L222.93,30.38 L223.16,30.38 L223.4,30.38 L223.63,30.38 L223.87,30.38 L224.1,30.38" fill="none" stroke="#111" stroke-width="1.3"/>
<path d="M36.9,158 L39.3,160.7 L36.9,163.4 L34.5,160.7Z M41.58,158 L43.98,160.7 L41.58,163.4 L39.18,160.7Z M46.26,158 L48.66,160.7 L46.26,163.4 L43.86,160.7Z M50.94,158 L53.34,160.7 L50.94,163.4 L48.54,160.7Z M55.62,158 L58.02,160.7 L55.62,163.4 L53.22,160.7Z M60.3,158 L62.7,160.7 L60.3,163.4 L57.9,160.7Z M64.98,157.94 L67.38,160.64 L64.98,163.34 L62.58,160.64Z M69.66,157.78 L72.06,160.48 L69.66,163.18 L67.26,160.48Z M74.34,157.53 L76.74,160.23 L74.34,162.93 L71.94,160.23Z M79.02,157.22 L81.42,159.92 L79.02,162.62 L76.62,159.92Z M83.7,156.86 L86.1,159.56 L83.7,162.26 L81.3,159.56Z M88.38,156.47 L90.78,159.17 L88.38,161.87 L85.98,159.17Z M93.06,156.06 L95.46,158.76 L93.06,161.46 L90.66,158.76Z M97.74,155.56 L100.14,158.26 L97.74,160.96 L95.34,158.26Z M102.42,154.89 L104.82,157.59 L102.42,160.29 L100.02,157.59Z M107.1,153.97 L109.5,156.67 L107.1,159.37 L104.7,156.67Z M111.78,152.56 L114.18,155.26 L111.78,157.96 L109.38,155.26Z M116.46,148.99 L118.86,151.69 L116.46,154.39 L114.06,151.69Z M117.86,147.67 L120.26,150.37 L117.86,153.07 L115.46,150.37Z M119.27,146.13 L121.67,148.83 L119.27,151.53 L116.87,148.83Z M120.67,144.34 L123.07,147.04 L120.67,149.74 L118.27,147.04Z M122.08,142.32 L124.48,145.02 L122.08,147.72 L119.68,145.02Z M123.48,140.09 L125.88,142.79 L123.48,145.49 L121.08,142.79Z M136.12,44.07 L138.52,46.77 L136.12,49.47 L133.72,46.77Z M137.52,41.04 L139.92,43.74 L137.52,46.44 L135.12,43.74Z M138.92,38.68 L141.32,41.38 L138.92,44.08 L136.52,41.38Z M140.33,36.87 L142.73,39.57 L140.33,42.27 L137.93,39.57Z M141.73,35.37 L144.13,38.07 L141.73,40.77 L139.33,38.07Z M143.14,34.13 L145.54,36.83 L143.14,39.53 L140.74,36.83Z M144.54,33.15 L146.94,35.85 L144.54,38.55 L142.14,35.85Z M149.22,30.85 L151.62,33.55 L149.22,36.25 L146.82,33.55Z M153.9,29.75 L156.3,32.45 L153.9,35.15 L151.5,32.45Z M158.58,29.16 L160.98,31.86 L158.58,34.56 L156.18,31.86Z M163.26,28.69 L165.66,31.39 L163.26,34.09 L160.86,31.39Z M167.94,28.35 L170.34,31.05 L167.94,33.75 L165.54,31.05Z M172.62,28.12 L175.02,30.82 L172.62,33.52 L170.22,30.82Z M177.3,28 L179.7,30.7 L177.3,33.4 L174.9,30.7Z M181.98,27.94 L184.38,30.64 L181.98,33.34 L179.58,30.64Z M186.66,27.88 L189.06,30.58 L186.66,33.28 L184.26,30.58Z M191.34,27.83 L193.74,30.53 L191.34,33.23 L188.94,30.53Z M196.02,27.79 L198.42,30.49 L196.02,33.19 L193.62,30.49Z M200.7,27.76 L203.1,30.46 L200.7,33.16 L198.3,30.46Z M205.38,27.73 L207.78,30.43 L205.38,33.13 L202.98,30.43Z M210.06,27.7 L212.46,30.4 L210.06,33.1 L207.66,30.4Z M214.74,27.69 L217.14,30.39 L214.74,33.09 L212.34,30.39Z M219.42,27.68 L221.82,30.38 L219.42,33.08 L217.02,30.38Z M224.1,27.68 L226.5,30.38 L224.1,33.08 L221.7,30.38Z M136.89,42.3 L139.29,45 L136.89,47.7 L134.49,45Z M135.78,44.91 L138.18,47.61 L135.78,50.31 L133.38,47.61Z M134.84,47.51 L137.24,50.21 L134.84,52.91 L132.44,50.21Z M134.1,50.11 L136.5,52.81 L134.1,55.51 L131.7,52.81Z M133.55,52.69 L135.95,55.39 L133.55,58.09 L131.15,55.39Z M133.11,55.31 L135.51,58.01 L133.11,60.71 L130.71,58.01Z M132.79,57.89 L135.19,60.59 L132.79,63.29 L130.39,60.59Z M132.58,60.51 L134.98,63.21 L132.58,65.91 L130.18,63.21Z M132.4,63.05 L134.8,65.75 L132.4,68.45 L130,65.75Z M132.22,65.73 L134.62,68.43 L132.22,71.13 L129.82,68.43Z M132.05,68.34 L134.45,71.04 L132.05,73.74 L129.65,71.04Z M131.91,70.84 L134.31,73.54 L131.91,76.24 L129.51,73.54Z M131.59,77.23 L133.99,79.93 L131.59,82.63 L129.19,79.93Z M131.42,80.32 L133.82,83.02 L131.42,85.72 L129.02,83.02Z M131.22,83.36 L133.62,86.06 L131.22,88.76 L128.82,86.06Z M129.61,101.3 L132.01,104 L129.61,106.7 L127.21,104Z M129.34,104.3 L131.74,107 L129.34,109.7 L126.94,107Z M129.1,107.26 L131.5,109.96 L129.1,112.66 L126.7,109.96Z M128.57,115.3 L130.97,118 L128.57,120.7 L126.17,118Z M128.46,117.88 L130.86,120.58 L128.46,123.28 L126.06,120.58Z M128.36,120.43 L130.76,123.13 L128.36,125.83 L125.96,123.13Z M128.25,123.01 L130.65,125.71 L128.25,128.41 L125.85,125.71Z M128.14,125.68 L130.54,128.38 L128.14,131.08 L125.74,128.38Z M128.01,128.36 L130.41,131.06 L128.01,133.76 L125.61,131.06Z M127.8,130.92 L130.2,133.62 L127.8,136.32 L125.4,133.62Z M127.16,133.49 L129.56,136.19 L127.16,138.89 L124.76,136.19Z M126.04,136.1 L128.44,138.8 L126.04,141.5 L123.64,138.8Z M124.3,138.7 L126.7,141.4 L124.3,144.1 L121.9,141.4Z M122.73,141.3 L125.13,144 L122.73,146.7 L120.33,144Z " fill="#2b50aa"/>
<path d="M48.5,29.8 H70.3" stroke="#e8141c" stroke-width="1.8"/>
<circle cx="58.9" cy="29.8" r="2.9" fill="#e8141c"/>
<path d="M48.5,44.4 H70.3" stroke="#222" stroke-width="1.3"/>
<path d="M58.9,40.9 L62.4,44.4 L58.9,47.9 L55.4,44.4Z" fill="#2b50aa"/>
<text x="71.3" y="33.5" font-size="10.8" text-anchor="start" >An1200Fe</text>
<text x="70.3" y="48.1" font-size="10.8" text-anchor="start" >A1200Fe</text>
<path d="M277.3,10.9 L277.3,180.6 L464.3,180.6" fill="none" stroke="#1a1a1a" stroke-width="1.2"/>
<path d="M277.3,180.6 V183.6 M308.47,180.6 V183.6 M339.63,180.6 V183.6 M370.8,180.6 V183.6 M401.96,180.6 V183.6 M433.12,180.6 V183.6 M464.29,180.6 V183.6 M292.88,180.6 V182.6 M324.05,180.6 V182.6 M355.21,180.6 V182.6 M386.38,180.6 V182.6 M417.54,180.6 V182.6 M448.71,180.6 V182.6 M277.3,174.7 H274.3 M277.3,151.3 H274.3 M277.3,127.9 H274.3 M277.3,104.5 H274.3 M277.3,81.1 H274.3 M277.3,57.7 H274.3 M277.3,34.3 H274.3 M277.3,10.9 H274.3 M277.3,163 H275.3 M277.3,139.6 H275.3 M277.3,116.2 H275.3 M277.3,92.8 H275.3 M277.3,69.4 H275.3 M277.3,46 H275.3 M277.3,22.6 H275.3 " fill="none" stroke="#1a1a1a" stroke-width="1"/>
<text transform="translate(277,192.3) scale(1.0,1)" font-size="9.2" text-anchor="middle">0</text>
<text transform="translate(308.17,192.3) scale(1.0,1)" font-size="9.2" text-anchor="middle">50</text>
<text transform="translate(339.33,192.3) scale(1.0,1)" font-size="9.2" text-anchor="middle">100</text>
<text transform="translate(370.5,192.3) scale(1.0,1)" font-size="9.2" text-anchor="middle">150</text>
<text transform="translate(401.66,192.3) scale(1.0,1)" font-size="9.2" text-anchor="middle">200</text>
<text transform="translate(432.82,192.3) scale(1.0,1)" font-size="9.2" text-anchor="middle">250</text>
<text transform="translate(463.99,192.3) scale(1.0,1)" font-size="9.2" text-anchor="middle">300</text>
<text transform="translate(272.2,178) scale(0.92,1)" font-size="9.4" text-anchor="end">0</text>
<text transform="translate(272.2,155.63) scale(0.92,1)" font-size="9.4" text-anchor="end">1</text>
<text transform="translate(272.2,133.26) scale(0.92,1)" font-size="9.4" text-anchor="end">2</text>
<text transform="translate(272.2,110.89) scale(0.92,1)" font-size="9.4" text-anchor="end">3</text>
<text transform="translate(272.2,88.52) scale(0.92,1)" font-size="9.4" text-anchor="end">4</text>
<text transform="translate(272.2,66.15) scale(0.92,1)" font-size="9.4" text-anchor="end">5</text>
<text transform="translate(272.2,43.78) scale(0.92,1)" font-size="9.4" text-anchor="end">6</text>
<text transform="translate(272.2,21.41) scale(0.92,1)" font-size="9.4" text-anchor="end">7</text>
<text x="246.9" y="11" font-size="9.9" text-anchor="start" style="stroke:none">B</text>
<text transform="translate(253.0,96.2) rotate(-90)" font-size="11.65" text-anchor="middle">Magnetization (emu/g)</text>
<text x="387.3" y="204.8" font-size="11.0" text-anchor="middle"><tspan font-style="italic">T</tspan>(K)</text>
<path d="M277.61,157.38 L277.77,157.87 L277.92,158.35 L278.07,158.82 L278.23,159.29 L278.38,159.76 L278.53,160.22 L278.69,160.68 L278.84,161.13 L279,161.57 L279.15,162.01 L279.3,162.45 L279.46,162.87 L279.61,163.31 L279.77,163.77 L279.92,164.23 L280.07,164.7 L280.23,165.16 L280.38,165.62 L280.53,166.07 L280.69,166.49 L280.84,166.9 L281,167.28 L281.15,167.62 L281.3,167.92 L281.46,168.18 L281.61,168.4 L281.77,168.58 L281.92,168.76 L282.07,168.94 L282.23,169.11 L282.38,169.27 L282.53,169.43 L282.69,169.58 L282.84,169.73 L283,169.87 L283.15,170.01 L283.3,170.14 L283.46,170.27 L283.61,170.39 L283.77,170.51 L283.92,170.62 L284.07,170.73 L284.23,170.83 L284.38,170.93 L284.54,171.02 L284.69,171.11 L284.84,171.19 L285,171.27 L285.15,171.34 L285.3,171.41 L285.46,171.47 L285.61,171.53 L285.77,171.58 L285.92,171.63 L286.07,171.67 L286.23,171.71 L286.38,171.75 L286.54,171.79 L286.69,171.83 L286.84,171.87 L287,171.91 L287.15,171.95 L287.3,171.98 L287.46,172.02 L287.61,172.05 L287.77,172.09 L287.92,172.12 L288.07,172.15 L288.23,172.19 L288.38,172.22 L288.54,172.25 L288.69,172.28 L288.84,172.31 L289,172.34 L289.15,172.37 L289.3,172.4 L289.46,172.42 L289.61,172.45 L289.77,172.48 L290.08,172.53 L290.66,172.62 L291.24,172.71 L291.83,172.78 L292.41,172.86 L292.99,172.92 L293.57,172.99 L294.16,173.05 L294.74,173.1 L295.32,173.16 L295.9,173.21 L296.49,173.25 L297.07,173.3 L297.65,173.35 L298.23,173.39 L298.82,173.44 L299.4,173.48 L299.98,173.52 L300.57,173.56 L301.15,173.6 L301.73,173.64 L302.31,173.68 L302.9,173.71 L303.48,173.75 L304.06,173.78 L304.64,173.81 L305.23,173.85 L305.81,173.88 L306.39,173.91 L306.97,173.93 L307.56,173.96 L308.14,173.99 L308.72,174.02 L309.31,174.04 L309.89,174.06 L310.47,174.09 L311.05,174.11 L311.64,174.13 L312.22,174.15 L312.8,174.17 L313.38,174.19 L313.97,174.21 L314.55,174.23 L315.13,174.24 L315.71,174.26 L316.3,174.28 L316.88,174.3 L317.46,174.31 L318.04,174.33 L318.63,174.34 L319.21,174.36 L319.79,174.38 L320.38,174.39 L320.96,174.41 L321.54,174.42 L322.12,174.44 L322.71,174.45 L323.29,174.47 L323.87,174.48 L324.45,174.5 L325.04,174.51 L325.62,174.53 L326.2,174.54 L326.78,174.56 L327.37,174.57 L327.95,174.58 L328.53,174.6 L329.12,174.61 L329.7,174.62 L330.28,174.64 L330.86,174.65 L331.45,174.66 L332.03,174.67 L332.61,174.68 L333.19,174.7 L333.78,174.71 L334.36,174.72 L334.94,174.73 L335.52,174.74 L336.11,174.75 L336.69,174.76 L337.27,174.77 L337.85,174.78 L338.44,174.79 L339.02,174.8 L339.6,174.81 L340.19,174.82 L340.77,174.83 L341.35,174.83 L341.93,174.84 L342.52,174.85 L343.1,174.86 L343.68,174.86 L344.26,174.87 L344.85,174.88 L345.43,174.88 L346.01,174.89 L346.59,174.9 L347.18,174.9 L347.76,174.91 L348.34,174.91 L348.93,174.92 L349.51,174.92 L350.09,174.92 L350.67,174.93 L351.26,174.93 L351.84,174.93 L352.42,174.94 L353,174.94 L353.59,174.94 L354.17,174.94 L354.75,174.95 L355.33,174.95 L355.92,174.95 L356.5,174.95 L357.08,174.96 L357.67,174.96 L358.25,174.96 L358.83,174.96 L359.41,174.96 L360,174.97 L360.58,174.97 L361.16,174.97 L361.74,174.97 L362.33,174.98 L362.91,174.98 L363.49,174.98 L364.07,174.98 L364.66,174.99 L365.24,174.99 L365.82,174.99 L366.4,174.99 L366.99,174.99 L367.57,175 L368.15,175 L368.74,175 L369.32,175 L369.9,175 L370.48,175.01 L371.07,175.01 L371.65,175.01 L372.23,175.01 L372.81,175.01 L373.4,175.02 L373.98,175.02 L374.56,175.02 L375.14,175.02 L375.73,175.02 L376.31,175.03 L376.89,175.03 L377.48,175.03 L378.06,175.03 L378.64,175.03 L379.22,175.04 L379.81,175.04 L380.39,175.04 L380.97,175.04 L381.55,175.04 L382.14,175.05 L382.72,175.05 L383.3,175.05 L383.88,175.05 L384.47,175.05 L385.05,175.05 L385.63,175.06 L386.21,175.06 L386.8,175.06 L387.38,175.06 L387.96,175.06 L388.55,175.06 L389.13,175.07 L389.71,175.07 L390.29,175.07 L390.88,175.07 L391.46,175.07 L392.04,175.07 L392.62,175.08 L393.21,175.08 L393.79,175.08 L394.37,175.08 L394.95,175.08 L395.54,175.08 L396.12,175.08 L396.7,175.09 L397.29,175.09 L397.87,175.09 L398.45,175.09 L399.03,175.09 L399.62,175.09 L400.2,175.09 L400.78,175.1 L401.36,175.1 L401.95,175.1 L402.53,175.1 L403.11,175.1 L403.69,175.1 L404.28,175.1 L404.86,175.1 L405.44,175.11 L406.02,175.11 L406.61,175.11 L407.19,175.11 L407.77,175.11 L408.36,175.11 L408.94,175.11 L409.52,175.11 L410.1,175.12 L410.69,175.12 L411.27,175.12 L411.85,175.12 L412.43,175.12 L413.02,175.12 L413.6,175.12 L414.18,175.12 L414.76,175.12 L415.35,175.13 L415.93,175.13 L416.51,175.13 L417.1,175.13 L417.68,175.13 L418.26,175.13 L418.84,175.13 L419.43,175.13 L420.01,175.13 L420.59,175.13 L421.17,175.14 L421.76,175.14 L422.34,175.14 L422.92,175.14 L423.5,175.14 L424.09,175.14 L424.67,175.14 L425.25,175.14 L425.84,175.14 L426.42,175.14 L427,175.14 L427.58,175.14 L428.17,175.15 L428.75,175.15 L429.33,175.15 L429.91,175.15 L430.5,175.15 L431.08,175.15 L431.66,175.15 L432.24,175.15 L432.83,175.15 L433.41,175.15 L433.99,175.15 L434.57,175.15 L435.16,175.15 L435.74,175.15 L436.32,175.15 L436.91,175.15 L437.49,175.16 L438.07,175.16 L438.65,175.16 L439.24,175.16 L439.82,175.16 L440.4,175.16 L440.98,175.16 L441.57,175.16 L442.15,175.16 L442.73,175.16 L443.31,175.16 L443.9,175.16 L444.48,175.16 L445.06,175.16 L445.65,175.16 L446.23,175.16 L446.81,175.16 L447.39,175.16 L447.98,175.16 L448.56,175.16 L449.14,175.16 L449.72,175.16 L450.31,175.16 L450.89,175.16 L451.47,175.17 L452.05,175.17 L452.64,175.17 L453.22,175.17 L453.8,175.17 L454.38,175.17 L454.97,175.17 L455.55,175.17 L456.13,175.17 L456.72,175.17 L457.3,175.17 L457.88,175.17 L458.46,175.17 L459.05,175.17 L459.63,175.17 L460.21,175.17 L460.79,175.17 L461.38,175.17 L461.96,175.17 L462.54,175.17 L463.12,175.17 L463.71,175.17 L464.29,175.17" fill="none" stroke="#e02a38" stroke-width="4.4"/>
<path d="M277.61,157.38 L277.77,157.87 L277.92,158.35 L278.07,158.82 L278.23,159.29 L278.38,159.76 L278.53,160.22 L278.69,160.68 L278.84,161.13 L279,161.57 L279.15,162.01 L279.3,162.45 L279.46,162.87 L279.61,163.31 L279.77,163.77 L279.92,164.23 L280.07,164.7 L280.23,165.16 L280.38,165.62 L280.53,166.07 L280.69,166.49 L280.84,166.9 L281,167.28 L281.15,167.62 L281.3,167.92 L281.46,168.18 L281.61,168.4 L281.77,168.58 L281.92,168.76 L282.07,168.94 L282.23,169.11 L282.38,169.27 L282.53,169.43 L282.69,169.58 L282.84,169.73 L283,169.87 L283.15,170.01 L283.3,170.14 L283.46,170.27 L283.61,170.39 L283.77,170.51 L283.92,170.62 L284.07,170.73 L284.23,170.83 L284.38,170.93 L284.54,171.02 L284.69,171.11 L284.84,171.19 L285,171.27 L285.15,171.34 L285.3,171.41 L285.46,171.47 L285.61,171.53 L285.77,171.58 L285.92,171.63 L286.07,171.67 L286.23,171.71 L286.38,171.75 L286.54,171.79 L286.69,171.83 L286.84,171.87 L287,171.91 L287.15,171.95 L287.3,171.98 L287.46,172.02 L287.61,172.05 L287.77,172.09 L287.92,172.12 L288.07,172.15 L288.23,172.19 L288.38,172.22 L288.54,172.25 L288.69,172.28 L288.84,172.31 L289,172.34 L289.15,172.37 L289.3,172.4 L289.46,172.42 L289.61,172.45 L289.77,172.48 L290.08,172.53 L290.66,172.62 L291.24,172.71 L291.83,172.78 L292.41,172.86 L292.99,172.92 L293.57,172.99 L294.16,173.05 L294.74,173.1 L295.32,173.16 L295.9,173.21 L296.49,173.25 L297.07,173.3 L297.65,173.35 L298.23,173.39 L298.82,173.44 L299.4,173.48 L299.98,173.52 L300.57,173.56 L301.15,173.6 L301.73,173.64 L302.31,173.68 L302.9,173.71 L303.48,173.75 L304.06,173.78 L304.64,173.81 L305.23,173.85 L305.81,173.88 L306.39,173.91 L306.97,173.93 L307.56,173.96 L308.14,173.99 L308.72,174.02 L309.31,174.04 L309.89,174.06 L310.47,174.09 L311.05,174.11 L311.64,174.13 L312.22,174.15 L312.8,174.17 L313.38,174.19 L313.97,174.21 L314.55,174.23 L315.13,174.24 L315.71,174.26 L316.3,174.28 L316.88,174.3 L317.46,174.31 L318.04,174.33 L318.63,174.34 L319.21,174.36 L319.79,174.38 L320.38,174.39 L320.96,174.41 L321.54,174.42 L322.12,174.44 L322.71,174.45 L323.29,174.47 L323.87,174.48 L324.45,174.5 L325.04,174.51 L325.62,174.53 L326.2,174.54 L326.78,174.56 L327.37,174.57 L327.95,174.58 L328.53,174.6 L329.12,174.61 L329.7,174.62 L330.28,174.64 L330.86,174.65 L331.45,174.66 L332.03,174.67 L332.61,174.68 L333.19,174.7 L333.78,174.71 L334.36,174.72 L334.94,174.73 L335.52,174.74 L336.11,174.75 L336.69,174.76 L337.27,174.77 L337.85,174.78 L338.44,174.79 L339.02,174.8 L339.6,174.81 L340.19,174.82 L340.77,174.83 L341.35,174.83 L341.93,174.84 L342.52,174.85 L343.1,174.86 L343.68,174.86 L344.26,174.87 L344.85,174.88 L345.43,174.88 L346.01,174.89 L346.59,174.9 L347.18,174.9 L347.76,174.91 L348.34,174.91 L348.93,174.92 L349.51,174.92 L350.09,174.92 L350.67,174.93 L351.26,174.93 L351.84,174.93 L352.42,174.94 L353,174.94 L353.59,174.94 L354.17,174.94 L354.75,174.95 L355.33,174.95 L355.92,174.95 L356.5,174.95 L357.08,174.96 L357.67,174.96 L358.25,174.96 L358.83,174.96 L359.41,174.96 L360,174.97 L360.58,174.97 L361.16,174.97 L361.74,174.97 L362.33,174.98 L362.91,174.98 L363.49,174.98 L364.07,174.98 L364.66,174.99 L365.24,174.99 L365.82,174.99 L366.4,174.99 L366.99,174.99 L367.57,175 L368.15,175 L368.74,175 L369.32,175 L369.9,175 L370.48,175.01 L371.07,175.01 L371.65,175.01 L372.23,175.01 L372.81,175.01 L373.4,175.02 L373.98,175.02 L374.56,175.02 L375.14,175.02 L375.73,175.02 L376.31,175.03 L376.89,175.03 L377.48,175.03 L378.06,175.03 L378.64,175.03 L379.22,175.04 L379.81,175.04 L380.39,175.04 L380.97,175.04 L381.55,175.04 L382.14,175.05 L382.72,175.05 L383.3,175.05 L383.88,175.05 L384.47,175.05 L385.05,175.05 L385.63,175.06 L386.21,175.06 L386.8,175.06 L387.38,175.06 L387.96,175.06 L388.55,175.06 L389.13,175.07 L389.71,175.07 L390.29,175.07 L390.88,175.07 L391.46,175.07 L392.04,175.07 L392.62,175.08 L393.21,175.08 L393.79,175.08 L394.37,175.08 L394.95,175.08 L395.54,175.08 L396.12,175.08 L396.7,175.09 L397.29,175.09 L397.87,175.09 L398.45,175.09 L399.03,175.09 L399.62,175.09 L400.2,175.09 L400.78,175.1 L401.36,175.1 L401.95,175.1 L402.53,175.1 L403.11,175.1 L403.69,175.1 L404.28,175.1 L404.86,175.1 L405.44,175.11 L406.02,175.11 L406.61,175.11 L407.19,175.11 L407.77,175.11 L408.36,175.11 L408.94,175.11 L409.52,175.11 L410.1,175.12 L410.69,175.12 L411.27,175.12 L411.85,175.12 L412.43,175.12 L413.02,175.12 L413.6,175.12 L414.18,175.12 L414.76,175.12 L415.35,175.13 L415.93,175.13 L416.51,175.13 L417.1,175.13 L417.68,175.13 L418.26,175.13 L418.84,175.13 L419.43,175.13 L420.01,175.13 L420.59,175.13 L421.17,175.14 L421.76,175.14 L422.34,175.14 L422.92,175.14 L423.5,175.14 L424.09,175.14 L424.67,175.14 L425.25,175.14 L425.84,175.14 L426.42,175.14 L427,175.14 L427.58,175.14 L428.17,175.15 L428.75,175.15 L429.33,175.15 L429.91,175.15 L430.5,175.15 L431.08,175.15 L431.66,175.15 L432.24,175.15 L432.83,175.15 L433.41,175.15 L433.99,175.15 L434.57,175.15 L435.16,175.15 L435.74,175.15 L436.32,175.15 L436.91,175.15 L437.49,175.16 L438.07,175.16 L438.65,175.16 L439.24,175.16 L439.82,175.16 L440.4,175.16 L440.98,175.16 L441.57,175.16 L442.15,175.16 L442.73,175.16 L443.31,175.16 L443.9,175.16 L444.48,175.16 L445.06,175.16 L445.65,175.16 L446.23,175.16 L446.81,175.16 L447.39,175.16 L447.98,175.16 L448.56,175.16 L449.14,175.16 L449.72,175.16 L450.31,175.16 L450.89,175.16 L451.47,175.17 L452.05,175.17 L452.64,175.17 L453.22,175.17 L453.8,175.17 L454.38,175.17 L454.97,175.17 L455.55,175.17 L456.13,175.17 L456.72,175.17 L457.3,175.17 L457.88,175.17 L458.46,175.17 L459.05,175.17 L459.63,175.17 L460.21,175.17 L460.79,175.17 L461.38,175.17 L461.96,175.17 L462.54,175.17 L463.12,175.17 L463.71,175.17 L464.29,175.17" fill="none" stroke="#3a3a3a" stroke-width="3.0"/>
<path d="M277.61,157.38 L277.77,157.87 L277.92,158.35 L278.07,158.82 L278.23,159.29 L278.38,159.76 L278.53,160.22 L278.69,160.68 L278.84,161.13 L279,161.57 L279.15,162.01 L279.3,162.45 L279.46,162.87 L279.61,163.31 L279.77,163.77 L279.92,164.23 L280.07,164.7 L280.23,165.16 L280.38,165.62 L280.53,166.07 L280.69,166.49 L280.84,166.9 L281,167.28 L281.15,167.62 L281.3,167.92 L281.46,168.18 L281.61,168.4 L281.77,168.58 L281.92,168.76 L282.07,168.94 L282.23,169.11 L282.38,169.27 L282.53,169.43 L282.69,169.58 L282.84,169.73 L283,169.87 L283.15,170.01 L283.3,170.14 L283.46,170.27 L283.61,170.39 L283.77,170.51 L283.92,170.62 L284.07,170.73 L284.23,170.83 L284.38,170.93 L284.54,171.02 L284.69,171.11 L284.84,171.19 L285,171.27 L285.15,171.34 L285.3,171.41 L285.46,171.47 L285.61,171.53 L285.77,171.58 L285.92,171.63 L286.07,171.67 L286.23,171.71 L286.38,171.75 L286.54,171.79 L286.69,171.83 L286.84,171.87 L287,171.91 L287.15,171.95 L287.3,171.98 L287.46,172.02 L287.61,172.05 L287.77,172.09 L287.92,172.12 L288.07,172.15 L288.23,172.19 L288.38,172.22 L288.54,172.25 L288.69,172.28 L288.84,172.31 L289,172.34 L289.15,172.37 L289.3,172.4 L289.46,172.42 L289.61,172.45 L289.77,172.48 L290.08,172.53 L290.66,172.62 L291.24,172.71 L291.83,172.78 L292.41,172.86 L292.99,172.92 L293.57,172.99 L294.16,173.05 L294.74,173.1 L295.32,173.16 L295.9,173.21 L296.49,173.25 L297.07,173.3 L297.65,173.35 L298.23,173.39 L298.82,173.44 L299.4,173.48 L299.98,173.52 L300.57,173.56 L301.15,173.6 L301.73,173.64 L302.31,173.68 L302.9,173.71 L303.48,173.75 L304.06,173.78 L304.64,173.81 L305.23,173.85 L305.81,173.88 L306.39,173.91 L306.97,173.93 L307.56,173.96 L308.14,173.99 L308.72,174.02 L309.31,174.04 L309.89,174.06 L310.47,174.09 L311.05,174.11 L311.64,174.13 L312.22,174.15 L312.8,174.17 L313.38,174.19 L313.97,174.21 L314.55,174.23 L315.13,174.24 L315.71,174.26 L316.3,174.28 L316.88,174.3 L317.46,174.31 L318.04,174.33 L318.63,174.34 L319.21,174.36 L319.79,174.38 L320.38,174.39 L320.96,174.41 L321.54,174.42 L322.12,174.44 L322.71,174.45 L323.29,174.47 L323.87,174.48 L324.45,174.5 L325.04,174.51 L325.62,174.53 L326.2,174.54 L326.78,174.56 L327.37,174.57 L327.95,174.58 L328.53,174.6 L329.12,174.61 L329.7,174.62 L330.28,174.64 L330.86,174.65 L331.45,174.66 L332.03,174.67 L332.61,174.68 L333.19,174.7 L333.78,174.71 L334.36,174.72 L334.94,174.73 L335.52,174.74 L336.11,174.75 L336.69,174.76 L337.27,174.77 L337.85,174.78 L338.44,174.79 L339.02,174.8 L339.6,174.81 L340.19,174.82 L340.77,174.83 L341.35,174.83 L341.93,174.84 L342.52,174.85 L343.1,174.86 L343.68,174.86 L344.26,174.87 L344.85,174.88 L345.43,174.88 L346.01,174.89 L346.59,174.9 L347.18,174.9 L347.76,174.91 L348.34,174.91 L348.93,174.92 L349.51,174.92 L350.09,174.92 L350.67,174.93 L351.26,174.93 L351.84,174.93 L352.42,174.94 L353,174.94 L353.59,174.94 L354.17,174.94 L354.75,174.95 L355.33,174.95 L355.92,174.95 L356.5,174.95 L357.08,174.96 L357.67,174.96 L358.25,174.96 L358.83,174.96 L359.41,174.96 L360,174.97 L360.58,174.97 L361.16,174.97 L361.74,174.97 L362.33,174.98 L362.91,174.98 L363.49,174.98 L364.07,174.98 L364.66,174.99 L365.24,174.99 L365.82,174.99 L366.4,174.99 L366.99,174.99 L367.57,175 L368.15,175 L368.74,175 L369.32,175 L369.9,175 L370.48,175.01 L371.07,175.01 L371.65,175.01 L372.23,175.01 L372.81,175.01 L373.4,175.02 L373.98,175.02 L374.56,175.02 L375.14,175.02 L375.73,175.02 L376.31,175.03 L376.89,175.03 L377.48,175.03 L378.06,175.03 L378.64,175.03 L379.22,175.04 L379.81,175.04 L380.39,175.04 L380.97,175.04 L381.55,175.04 L382.14,175.05 L382.72,175.05 L383.3,175.05 L383.88,175.05 L384.47,175.05 L385.05,175.05 L385.63,175.06 L386.21,175.06 L386.8,175.06 L387.38,175.06 L387.96,175.06 L388.55,175.06 L389.13,175.07 L389.71,175.07 L390.29,175.07 L390.88,175.07 L391.46,175.07 L392.04,175.07 L392.62,175.08 L393.21,175.08 L393.79,175.08 L394.37,175.08 L394.95,175.08 L395.54,175.08 L396.12,175.08 L396.7,175.09 L397.29,175.09 L397.87,175.09 L398.45,175.09 L399.03,175.09 L399.62,175.09 L400.2,175.09 L400.78,175.1 L401.36,175.1 L401.95,175.1 L402.53,175.1 L403.11,175.1 L403.69,175.1 L404.28,175.1 L404.86,175.1 L405.44,175.11 L406.02,175.11 L406.61,175.11 L407.19,175.11 L407.77,175.11 L408.36,175.11 L408.94,175.11 L409.52,175.11 L410.1,175.12 L410.69,175.12 L411.27,175.12 L411.85,175.12 L412.43,175.12 L413.02,175.12 L413.6,175.12 L414.18,175.12 L414.76,175.12 L415.35,175.13 L415.93,175.13 L416.51,175.13 L417.1,175.13 L417.68,175.13 L418.26,175.13 L418.84,175.13 L419.43,175.13 L420.01,175.13 L420.59,175.13 L421.17,175.14 L421.76,175.14 L422.34,175.14 L422.92,175.14 L423.5,175.14 L424.09,175.14 L424.67,175.14 L425.25,175.14 L425.84,175.14 L426.42,175.14 L427,175.14 L427.58,175.14 L428.17,175.15 L428.75,175.15 L429.33,175.15 L429.91,175.15 L430.5,175.15 L431.08,175.15 L431.66,175.15 L432.24,175.15 L432.83,175.15 L433.41,175.15 L433.99,175.15 L434.57,175.15 L435.16,175.15 L435.74,175.15 L436.32,175.15 L436.91,175.15 L437.49,175.16 L438.07,175.16 L438.65,175.16 L439.24,175.16 L439.82,175.16 L440.4,175.16 L440.98,175.16 L441.57,175.16 L442.15,175.16 L442.73,175.16 L443.31,175.16 L443.9,175.16 L444.48,175.16 L445.06,175.16 L445.65,175.16 L446.23,175.16 L446.81,175.16 L447.39,175.16 L447.98,175.16 L448.56,175.16 L449.14,175.16 L449.72,175.16 L450.31,175.16 L450.89,175.16 L451.47,175.17 L452.05,175.17 L452.64,175.17 L453.22,175.17 L453.8,175.17 L454.38,175.17 L454.97,175.17 L455.55,175.17 L456.13,175.17 L456.72,175.17 L457.3,175.17 L457.88,175.17 L458.46,175.17 L459.05,175.17 L459.63,175.17 L460.21,175.17 L460.79,175.17 L461.38,175.17 L461.96,175.17 L462.54,175.17 L463.12,175.17 L463.71,175.17 L464.29,175.17" fill="none" stroke="#9cb8b8" stroke-width="1.0" stroke-dasharray="2.5 1"/>
<g fill="#fff" stroke="#e03030" stroke-width="0.9"><circle cx="277.67" cy="157.58" r="1.6"/><circle cx="278.67" cy="160.63" r="1.6"/></g>
<path d="M280.25,106.58 L280.4,106.14 L280.55,105.71 L280.69,105.28 L280.84,104.87 L280.98,104.46 L281.13,104.05 L281.27,103.66 L281.42,103.28 L281.56,102.91 L281.7,102.54 L281.84,102.19 L281.98,101.85 L282.12,101.53 L282.26,101.22 L282.39,100.92 L282.52,100.64 L282.65,100.37 L282.78,100.12 L282.92,99.85 L283.08,99.55 L283.24,99.25 L283.4,98.94 L283.55,98.64 L283.7,98.34 L283.85,98.05 L283.99,97.77 L284.13,97.5 L284.27,97.24 L284.41,96.99 L284.53,96.76 L284.66,96.55 L284.77,96.36 L284.88,96.2 L284.97,96.06 L285.05,95.96 L285.11,95.89 L285.13,95.86 L285.12,95.86 L285.04,95.91 L284.9,95.99 L284.67,96.07 L284.24,96.14 L283.05,95.87 L282.26,95.22 L282.15,95.03 L282.21,95.19 L282.32,95.54 L282.46,96.04 L282.6,96.65 L282.75,97.33 L282.9,98.07 L283.06,98.85 L283.22,99.65 L283.37,100.46 L283.53,101.27 L283.7,102.05 L283.86,102.8 L284.03,103.52 L284.2,104.14 L284.37,104.72 L284.52,105.27 L284.68,105.83 L284.84,106.38 L285,106.93 L285.16,107.48 L285.31,108.03 L285.47,108.58 L285.63,109.12 L285.79,109.66 L285.95,110.2 L286.11,110.73 L286.27,111.26 L286.42,111.79 L286.58,112.31 L286.74,112.83 L286.9,113.34 L287.06,113.85 L287.22,114.36 L287.38,114.86 L287.7,115.87 L288.3,117.67 L288.9,119.38 L289.49,121.01 L290.09,122.58 L290.68,124.1 L291.28,125.57 L291.88,126.99 L292.48,128.35 L293.09,129.65 L293.7,130.9 L294.31,132.07 L294.91,133.19 L295.52,134.28 L296.14,135.33 L296.77,136.33 L297.43,137.27 L298.12,138.13 L298.81,138.89 L299.49,139.54 L300.14,140.11 L300.74,140.62 L301.3,141.09 L301.85,141.56 L302.4,142.07 L302.96,142.61 L303.54,143.17 L304.13,143.74 L304.74,144.31 L305.35,144.88 L305.98,145.44 L306.63,145.98 L307.3,146.5 L308,146.98 L308.69,147.39 L309.33,147.75 L309.96,148.08 L310.59,148.39 L311.21,148.69 L311.83,148.97 L312.45,149.24 L313.06,149.49 L313.67,149.73 L314.28,149.97 L314.88,150.19 L315.48,150.41 L316.07,150.63 L316.66,150.84 L317.24,151.04 L317.82,151.25 L318.39,151.46 L318.97,151.67 L319.55,151.88 L320.13,152.09 L320.72,152.31 L321.3,152.52 L321.89,152.74 L322.49,152.95 L323.08,153.16 L323.68,153.37 L324.29,153.57 L324.89,153.77 L325.5,153.96 L326.12,154.14 L326.73,154.31 L327.35,154.48 L327.98,154.63 L328.6,154.78 L329.22,154.91 L329.82,155.03 L330.43,155.14 L331.03,155.25 L331.64,155.35 L332.23,155.45 L332.83,155.54 L333.42,155.63 L334.02,155.72 L334.6,155.8 L335.19,155.89 L335.77,155.97 L336.35,156.05 L336.93,156.13 L337.51,156.22 L338.08,156.3 L338.65,156.39 L339.22,156.48 L339.79,156.58 L340.36,156.68 L340.94,156.78 L341.52,156.88 L342.1,156.98 L342.68,157.08 L343.26,157.19 L343.84,157.29 L344.42,157.4 L345,157.51 L345.58,157.61 L346.16,157.72 L346.74,157.83 L347.33,157.94 L347.91,158.04 L348.49,158.15 L349.08,158.26 L349.66,158.37 L350.24,158.47 L350.83,158.58 L351.42,158.69 L352,158.79 L352.59,158.9 L353.17,159 L353.76,159.1 L354.35,159.2 L354.93,159.3 L355.51,159.4 L356.09,159.51 L356.67,159.61 L357.25,159.71 L357.83,159.82 L358.41,159.92 L358.99,160.02 L359.57,160.13 L360.16,160.24 L360.74,160.34 L361.32,160.45 L361.91,160.55 L362.49,160.66 L363.08,160.76 L363.66,160.87 L364.25,160.97 L364.83,161.07 L365.42,161.17 L366.01,161.27 L366.6,161.37 L367.19,161.47 L367.78,161.56 L368.37,161.66 L368.96,161.75 L369.55,161.84 L370.14,161.93 L370.73,162.01 L371.32,162.1 L371.92,162.18 L372.51,162.25 L373.11,162.33 L373.7,162.4 L374.3,162.47 L374.89,162.53 L375.48,162.6 L376.07,162.66 L376.65,162.72 L377.24,162.78 L377.82,162.84 L378.41,162.89 L379,162.95 L379.58,163.01 L380.17,163.06 L380.75,163.12 L381.34,163.17 L381.93,163.22 L382.51,163.27 L383.1,163.32 L383.68,163.37 L384.27,163.42 L384.85,163.47 L385.44,163.52 L386.03,163.57 L386.61,163.61 L387.2,163.66 L387.78,163.7 L388.37,163.75 L388.95,163.79 L389.54,163.84 L390.12,163.88 L390.71,163.92 L391.3,163.96 L391.88,164 L392.47,164.04 L393.05,164.08 L393.64,164.12 L394.22,164.16 L394.81,164.19 L395.39,164.23 L395.98,164.26 L396.56,164.3 L397.15,164.33 L397.73,164.37 L398.32,164.4 L398.9,164.44 L399.48,164.47 L400.07,164.5 L400.65,164.53 L401.24,164.56 L401.82,164.59 L402.41,164.62 L402.99,164.65 L403.58,164.68 L404.16,164.71 L404.75,164.74 L405.33,164.76 L405.92,164.79 L406.5,164.82 L407.09,164.84 L407.67,164.87 L408.25,164.89 L408.84,164.92 L409.42,164.94 L410.01,164.97 L410.59,164.99 L411.17,165.02 L411.76,165.04 L412.34,165.06 L412.92,165.08 L413.51,165.11 L414.09,165.13 L414.67,165.15 L415.26,165.17 L415.84,165.2 L416.42,165.22 L417.01,165.24 L417.59,165.26 L418.17,165.28 L418.76,165.3 L419.34,165.32 L419.92,165.35 L420.5,165.37 L421.09,165.39 L421.67,165.41 L422.25,165.43 L422.83,165.45 L423.42,165.48 L424,165.5 L424.58,165.52 L425.16,165.54 L425.74,165.56 L426.33,165.59 L426.91,165.61 L427.49,165.63 L428.08,165.65 L428.66,165.68 L429.24,165.7 L429.82,165.72 L430.41,165.74 L430.99,165.76 L431.57,165.79 L432.16,165.81 L432.74,165.83 L433.32,165.85 L433.9,165.87 L434.49,165.9 L435.07,165.92 L435.65,165.94 L436.24,165.96 L436.82,165.98 L437.4,166 L437.98,166.03 L438.57,166.05 L439.15,166.07 L439.73,166.09 L440.32,166.11 L440.9,166.13 L441.48,166.15 L442.06,166.18 L442.65,166.2 L443.23,166.22 L443.81,166.24 L444.4,166.26 L444.98,166.28 L445.56,166.3 L446.14,166.32 L446.73,166.34 L447.31,166.36 L447.89,166.38 L448.48,166.4 L449.06,166.42 L449.64,166.45 L450.22,166.47 L450.81,166.49 L451.39,166.51 L451.97,166.53 L452.56,166.55 L453.14,166.57 L453.72,166.59 L454.3,166.61 L454.89,166.63 L455.47,166.65 L456.05,166.67 L456.64,166.69 L457.22,166.71 L457.8,166.73 L458.38,166.75 L458.97,166.76 L459.55,166.78 L460.13,166.8 L460.72,166.82 L461.3,166.84 L461.88,166.86 L462.47,166.88 L463.05,166.9 L463.63,166.92 L464.21,166.94 L464.37,162.34 L463.78,162.32 L463.2,162.3 L462.62,162.28 L462.04,162.26 L461.45,162.24 L460.87,162.22 L460.29,162.2 L459.71,162.18 L459.12,162.16 L458.54,162.14 L457.96,162.12 L457.38,162.1 L456.79,162.08 L456.21,162.06 L455.63,162.04 L455.05,162.02 L454.47,162 L453.88,161.98 L453.3,161.96 L452.72,161.93 L452.14,161.91 L451.55,161.89 L450.97,161.87 L450.39,161.85 L449.81,161.83 L449.22,161.81 L448.64,161.79 L448.06,161.77 L447.48,161.74 L446.89,161.72 L446.31,161.7 L445.73,161.68 L445.15,161.66 L444.56,161.64 L443.98,161.62 L443.4,161.59 L442.82,161.57 L442.23,161.55 L441.65,161.53 L441.07,161.51 L440.49,161.48 L439.9,161.46 L439.32,161.44 L438.74,161.42 L438.16,161.4 L437.58,161.37 L436.99,161.35 L436.41,161.33 L435.83,161.31 L435.25,161.28 L434.66,161.26 L434.08,161.24 L433.5,161.22 L432.92,161.19 L432.33,161.17 L431.75,161.15 L431.17,161.13 L430.59,161.1 L430,161.08 L429.42,161.06 L428.84,161.03 L428.26,161.01 L427.67,160.99 L427.09,160.96 L426.51,160.94 L425.93,160.92 L425.34,160.9 L424.76,160.87 L424.18,160.85 L423.59,160.83 L423.01,160.8 L422.43,160.78 L421.84,160.76 L421.26,160.74 L420.68,160.72 L420.1,160.69 L419.51,160.67 L418.93,160.65 L418.35,160.63 L417.77,160.6 L417.18,160.58 L416.6,160.56 L416.02,160.54 L415.44,160.51 L414.85,160.49 L414.27,160.47 L413.69,160.45 L413.11,160.42 L412.53,160.4 L411.95,160.38 L411.36,160.35 L410.78,160.33 L410.2,160.3 L409.62,160.28 L409.04,160.25 L408.46,160.23 L407.88,160.2 L407.29,160.18 L406.71,160.15 L406.13,160.12 L405.55,160.09 L404.97,160.07 L404.39,160.04 L403.81,160.01 L403.23,159.98 L402.65,159.95 L402.07,159.92 L401.49,159.89 L400.91,159.86 L400.33,159.83 L399.75,159.79 L399.17,159.76 L398.59,159.73 L398.01,159.69 L397.42,159.66 L396.84,159.62 L396.26,159.59 L395.68,159.55 L395.1,159.51 L394.52,159.48 L393.94,159.44 L393.36,159.4 L392.78,159.36 L392.2,159.32 L391.62,159.28 L391.04,159.24 L390.46,159.2 L389.88,159.15 L389.3,159.11 L388.72,159.07 L388.14,159.02 L387.56,158.98 L386.98,158.93 L386.4,158.88 L385.82,158.84 L385.24,158.79 L384.66,158.74 L384.09,158.69 L383.51,158.64 L382.93,158.59 L382.35,158.53 L381.77,158.48 L381.19,158.43 L380.61,158.37 L380.03,158.32 L379.45,158.26 L378.87,158.21 L378.29,158.15 L377.71,158.09 L377.13,158.03 L376.55,157.97 L375.98,157.91 L375.4,157.85 L374.83,157.78 L374.26,157.72 L373.69,157.65 L373.12,157.57 L372.54,157.5 L371.97,157.42 L371.4,157.34 L370.83,157.26 L370.25,157.17 L369.68,157.08 L369.1,156.99 L368.53,156.9 L367.95,156.81 L367.38,156.71 L366.8,156.61 L366.22,156.51 L365.64,156.41 L365.07,156.31 L364.49,156.21 L363.91,156.11 L363.33,156 L362.75,155.9 L362.17,155.79 L361.58,155.68 L361,155.58 L360.42,155.47 L359.84,155.37 L359.25,155.26 L358.67,155.15 L358.08,155.05 L357.5,154.94 L356.91,154.84 L356.32,154.74 L355.74,154.63 L355.16,154.53 L354.58,154.43 L354,154.33 L353.42,154.23 L352.84,154.12 L352.26,154.02 L351.68,153.91 L351.1,153.81 L350.52,153.7 L349.94,153.59 L349.36,153.48 L348.78,153.37 L348.19,153.27 L347.61,153.16 L347.03,153.05 L346.44,152.94 L345.86,152.83 L345.28,152.72 L344.69,152.62 L344.11,152.51 L343.52,152.4 L342.93,152.3 L342.35,152.19 L341.76,152.09 L341.17,151.99 L340.58,151.89 L339.99,151.79 L339.39,151.69 L338.8,151.6 L338.2,151.51 L337.61,151.42 L337.03,151.34 L336.44,151.25 L335.86,151.17 L335.28,151.09 L334.7,151 L334.13,150.92 L333.56,150.83 L332.99,150.74 L332.42,150.65 L331.86,150.55 L331.3,150.45 L330.74,150.35 L330.18,150.23 L329.63,150.12 L329.09,149.99 L328.55,149.86 L328,149.71 L327.45,149.55 L326.9,149.39 L326.34,149.21 L325.79,149.03 L325.22,148.84 L324.66,148.65 L324.09,148.45 L323.52,148.24 L322.94,148.03 L322.37,147.82 L321.79,147.6 L321.2,147.39 L320.62,147.17 L320.03,146.96 L319.44,146.74 L318.85,146.53 L318.27,146.33 L317.69,146.12 L317.12,145.91 L316.55,145.7 L315.98,145.49 L315.42,145.27 L314.87,145.05 L314.32,144.82 L313.77,144.59 L313.23,144.34 L312.69,144.08 L312.15,143.81 L311.61,143.53 L311.09,143.24 L310.61,142.95 L310.14,142.63 L309.65,142.24 L309.13,141.81 L308.6,141.32 L308.05,140.81 L307.49,140.26 L306.91,139.7 L306.32,139.13 L305.73,138.55 L305.11,137.97 L304.49,137.42 L303.88,136.9 L303.32,136.43 L302.81,135.96 L302.32,135.49 L301.85,134.97 L301.37,134.36 L300.86,133.62 L300.33,132.78 L299.79,131.84 L299.23,130.83 L298.67,129.78 L298.11,128.69 L297.55,127.54 L296.99,126.32 L296.43,125.03 L295.87,123.68 L295.3,122.27 L294.73,120.8 L294.16,119.28 L293.59,117.71 L293.02,116.07 L292.45,114.33 L292.15,113.36 L292,112.88 L291.86,112.38 L291.71,111.89 L291.56,111.38 L291.41,110.87 L291.26,110.36 L291.11,109.84 L290.96,109.32 L290.82,108.79 L290.67,108.26 L290.52,107.72 L290.37,107.19 L290.22,106.64 L290.07,106.1 L289.92,105.55 L289.77,105.01 L289.62,104.45 L289.47,103.9 L289.32,103.35 L289.17,102.8 L289.04,102.27 L288.9,101.67 L288.76,101 L288.61,100.26 L288.47,99.48 L288.32,98.68 L288.17,97.87 L288.01,97.06 L287.86,96.27 L287.7,95.51 L287.54,94.79 L287.36,94.12 L287.17,93.48 L286.92,92.84 L286.5,92.1 L285.41,91.16 L283.91,90.87 L283.17,91 L282.63,91.21 L282.18,91.46 L281.8,91.73 L281.48,92 L281.19,92.29 L280.94,92.57 L280.71,92.86 L280.5,93.15 L280.3,93.44 L280.1,93.73 L279.92,94.03 L279.74,94.33 L279.57,94.64 L279.4,94.94 L279.23,95.24 L279.07,95.55 L278.91,95.84 L278.75,96.14 L278.6,96.43 L278.44,96.71 L278.29,96.98 L278.15,97.24 L277.98,97.54 L277.8,97.87 L277.62,98.22 L277.45,98.57 L277.27,98.93 L277.1,99.3 L276.93,99.68 L276.77,100.07 L276.6,100.46 L276.43,100.87 L276.27,101.28 L276.1,101.69 L275.94,102.11 L275.78,102.54 L275.61,102.98 L275.45,103.42 L275.29,103.86 L275.13,104.31 L274.97,104.76Z" fill="#e8141c"/>
<circle cx="464.29" cy="164.64" r="2.3" fill="#e8141c"/>
<path d="M277.61,149.43 L280.48,142.41 L284.47,134.45" fill="none" stroke="#3341a0" stroke-width="4.6" stroke-linecap="round"/>
<path d="M275.22,104.02 L275.37,104.55 L275.53,105.08 L275.68,105.62 L275.84,106.17 L275.99,106.72 L276.15,107.28 L276.31,107.85 L276.46,108.42 L276.62,109 L276.77,109.58 L276.93,110.17 L277.09,110.77 L277.24,111.37 L277.4,111.98 L277.55,112.59 L277.71,113.2 L277.87,113.83 L278.02,114.45 L278.18,115.09 L278.34,115.72 L278.49,116.36 L278.65,117.01 L278.81,117.65 L278.96,118.31 L279.12,118.98 L279.27,119.66 L279.43,120.34 L279.59,121.04 L279.74,121.75 L279.9,122.46 L280.05,123.18 L280.21,123.91 L280.37,124.64 L280.53,125.37 L280.68,126.11 L280.84,126.84 L281,127.58 L281.16,128.31 L281.31,129.04 L281.47,129.76 L281.62,130.5 L281.78,131.27 L281.93,132.06 L282.09,132.88 L282.25,133.7 L282.41,134.53 L282.56,135.36 L282.72,136.19 L282.88,136.99 L283.04,137.78 L283.21,138.54 L283.37,139.27 L283.54,139.96 L283.71,140.61 L283.88,141.22 L284.06,141.77 L284.23,142.24 L284.39,142.69 L284.56,143.13 L284.72,143.56 L284.88,143.98 L285.05,144.39 L285.21,144.79 L285.38,145.18 L285.54,145.56 L285.71,145.93 L285.88,146.29 L286.04,146.64 L286.21,146.99 L286.38,147.33 L286.54,147.65 L286.71,147.98 L286.88,148.29 L287.05,148.59 L287.22,148.89 L287.39,149.18 L287.56,149.47 L287.73,149.75 L287.9,150.03 L288.25,150.56 L288.89,151.47 L289.54,152.31 L290.18,153.08 L290.83,153.79 L291.48,154.44 L292.12,155.05 L292.76,155.6 L293.39,156.13 L294.01,156.62 L294.62,157.08 L295.22,157.53 L295.81,157.96 L296.38,158.39 L296.95,158.83 L297.55,159.31 L298.23,159.83 L298.98,160.29 L299.67,160.64 L300.3,160.93 L300.93,161.2 L301.56,161.46 L302.18,161.7 L302.8,161.93 L303.41,162.14 L304.02,162.34 L304.63,162.53 L305.24,162.72 L305.84,162.89 L306.44,163.06 L307.03,163.22 L307.62,163.39 L308.2,163.55 L308.78,163.72 L309.37,163.89 L309.96,164.06 L310.55,164.23 L311.15,164.39 L311.74,164.55 L312.33,164.71 L312.92,164.86 L313.51,165.01 L314.11,165.16 L314.7,165.3 L315.29,165.44 L315.88,165.58 L316.47,165.72 L317.05,165.85 L317.64,165.98 L318.23,166.11 L318.82,166.24 L319.4,166.37 L319.99,166.49 L320.58,166.62 L321.16,166.74 L321.75,166.87 L322.34,166.99 L322.93,167.11 L323.51,167.22 L324.1,167.34 L324.69,167.45 L325.29,167.57 L325.88,167.67 L326.47,167.78 L327.06,167.88 L327.66,167.98 L328.25,168.07 L328.85,168.16 L329.44,168.25 L330.03,168.33 L330.62,168.41 L331.21,168.49 L331.79,168.57 L332.38,168.64 L332.97,168.72 L333.56,168.79 L334.15,168.86 L334.73,168.92 L335.32,168.99 L335.91,169.06 L336.5,169.12 L337.08,169.18 L337.67,169.24 L338.26,169.3 L338.84,169.36 L339.43,169.41 L340.02,169.47 L340.6,169.52 L341.19,169.57 L341.78,169.62 L342.36,169.67 L342.95,169.72 L343.54,169.77 L344.12,169.82 L344.71,169.86 L345.29,169.91 L345.88,169.95 L346.46,170 L347.05,170.04 L347.63,170.08 L348.21,170.12 L348.8,170.16 L349.38,170.2 L349.96,170.25 L350.55,170.29 L351.13,170.33 L351.71,170.37 L352.3,170.41 L352.88,170.45 L353.46,170.49 L354.04,170.53 L354.62,170.57 L355.21,170.61 L355.79,170.65 L356.37,170.7 L356.95,170.74 L357.54,170.78 L358.12,170.82 L358.7,170.86 L359.29,170.9 L359.87,170.94 L360.45,170.99 L361.04,171.03 L361.62,171.07 L362.2,171.11 L362.79,171.15 L363.37,171.19 L363.95,171.23 L364.53,171.27 L365.12,171.31 L365.7,171.35 L366.28,171.39 L366.87,171.43 L367.45,171.47 L368.04,171.51 L368.62,171.55 L369.2,171.58 L369.79,171.62 L370.37,171.66 L370.95,171.7 L371.54,171.73 L372.12,171.77 L372.7,171.81 L373.29,171.84 L373.87,171.88 L374.46,171.92 L375.04,171.95 L375.62,171.99 L376.2,172.02 L376.79,172.06 L377.37,172.09 L377.95,172.13 L378.53,172.16 L379.11,172.2 L379.7,172.24 L380.28,172.27 L380.86,172.31 L381.45,172.34 L382.03,172.38 L382.61,172.42 L383.19,172.45 L383.78,172.49 L384.36,172.53 L384.94,172.56 L385.53,172.6 L386.11,172.63 L386.7,172.67 L387.28,172.7 L387.86,172.73 L388.45,172.77 L389.03,172.8 L389.62,172.83 L390.2,172.86 L390.78,172.9 L391.37,172.93 L391.95,172.96 L392.54,172.99 L393.12,173.02 L393.71,173.04 L394.29,173.07 L394.88,173.1 L395.46,173.12 L396.05,173.15 L396.63,173.17 L397.22,173.19 L397.8,173.22 L398.39,173.24 L398.98,173.26 L399.56,173.27 L400.15,173.29 L400.73,173.31 L401.32,173.32 L401.9,173.34 L402.48,173.36 L403.06,173.37 L403.65,173.39 L404.23,173.4 L404.81,173.42 L405.4,173.43 L405.98,173.45 L406.56,173.46 L407.14,173.48 L407.73,173.5 L408.31,173.51 L408.89,173.53 L409.48,173.54 L410.06,173.56 L410.64,173.57 L411.22,173.59 L411.81,173.6 L412.39,173.61 L412.97,173.63 L413.56,173.64 L414.14,173.66 L414.72,173.67 L415.3,173.69 L415.89,173.7 L416.47,173.72 L417.05,173.73 L417.64,173.74 L418.22,173.76 L418.8,173.77 L419.39,173.78 L419.97,173.8 L420.55,173.81 L421.13,173.82 L421.72,173.84 L422.3,173.85 L422.88,173.86 L423.47,173.87 L424.05,173.89 L424.63,173.9 L425.22,173.91 L425.8,173.92 L426.38,173.94 L426.96,173.95 L427.55,173.96 L428.13,173.97 L428.71,173.98 L429.3,173.99 L429.88,174.01 L430.46,174.02 L431.05,174.03 L431.63,174.04 L432.21,174.05 L432.8,174.06 L433.38,174.07 L433.96,174.08 L434.54,174.09 L435.13,174.1 L435.71,174.11 L436.29,174.12 L436.88,174.13 L437.46,174.14 L438.04,174.14 L438.63,174.15 L439.21,174.16 L439.79,174.17 L440.38,174.18 L440.96,174.19 L441.54,174.19 L442.13,174.2 L442.71,174.21 L443.29,174.22 L443.88,174.22 L444.46,174.23 L445.04,174.24 L445.63,174.24 L446.21,174.25 L446.79,174.25 L447.37,174.26 L447.96,174.27 L448.54,174.27 L449.12,174.28 L449.71,174.28 L450.29,174.29 L450.87,174.29 L451.46,174.3 L452.04,174.3 L452.62,174.3 L453.21,174.31 L453.79,174.31 L454.37,174.31 L454.96,174.32 L455.54,174.32 L456.12,174.32 L456.71,174.32 L457.29,174.32 L457.87,174.33 L458.46,174.33 L459.04,174.33 L459.62,174.33 L460.21,174.33 L460.79,174.33 L461.37,174.33 L461.96,174.33 L462.54,174.33 L463.12,174.33 L463.71,174.33 L464.29,174.33 L464.29,171.33 L463.71,171.33 L463.13,171.32 L462.54,171.32 L461.96,171.32 L461.38,171.32 L460.8,171.32 L460.22,171.31 L459.63,171.31 L459.05,171.31 L458.47,171.3 L457.89,171.3 L457.31,171.29 L456.72,171.29 L456.14,171.28 L455.56,171.28 L454.98,171.27 L454.4,171.27 L453.81,171.26 L453.23,171.26 L452.65,171.25 L452.07,171.24 L451.49,171.24 L450.9,171.23 L450.32,171.22 L449.74,171.22 L449.16,171.21 L448.58,171.2 L447.99,171.19 L447.41,171.18 L446.83,171.18 L446.25,171.17 L445.67,171.16 L445.08,171.15 L444.5,171.14 L443.92,171.13 L443.34,171.12 L442.75,171.11 L442.17,171.1 L441.59,171.09 L441.01,171.08 L440.43,171.07 L439.84,171.06 L439.26,171.05 L438.68,171.04 L438.1,171.03 L437.52,171.02 L436.93,171 L436.35,170.99 L435.77,170.98 L435.19,170.97 L434.6,170.96 L434.02,170.94 L433.44,170.93 L432.86,170.92 L432.28,170.9 L431.69,170.89 L431.11,170.88 L430.53,170.86 L429.95,170.85 L429.36,170.84 L428.78,170.82 L428.2,170.81 L427.62,170.8 L427.04,170.78 L426.45,170.77 L425.87,170.75 L425.29,170.74 L424.71,170.72 L424.12,170.71 L423.54,170.69 L422.96,170.68 L422.38,170.66 L421.8,170.65 L421.21,170.63 L420.63,170.61 L420.05,170.6 L419.47,170.58 L418.88,170.57 L418.3,170.55 L417.72,170.53 L417.14,170.52 L416.55,170.5 L415.97,170.48 L415.39,170.47 L414.81,170.45 L414.23,170.43 L413.64,170.42 L413.06,170.4 L412.48,170.38 L411.9,170.37 L411.31,170.35 L410.73,170.33 L410.15,170.31 L409.57,170.3 L408.98,170.28 L408.4,170.26 L407.82,170.24 L407.24,170.22 L406.65,170.21 L406.07,170.19 L405.49,170.17 L404.91,170.15 L404.32,170.13 L403.74,170.12 L403.16,170.1 L402.58,170.08 L401.99,170.06 L401.41,170.04 L400.83,170.02 L400.25,170 L399.67,169.99 L399.09,169.96 L398.51,169.94 L397.93,169.92 L397.35,169.9 L396.77,169.87 L396.19,169.84 L395.61,169.82 L395.03,169.79 L394.45,169.76 L393.87,169.73 L393.29,169.7 L392.71,169.67 L392.13,169.64 L391.55,169.6 L390.97,169.57 L390.39,169.54 L389.81,169.5 L389.23,169.47 L388.64,169.43 L388.06,169.4 L387.48,169.36 L386.9,169.32 L386.32,169.29 L385.74,169.25 L385.16,169.21 L384.57,169.17 L383.99,169.14 L383.41,169.1 L382.83,169.06 L382.24,169.02 L381.66,168.98 L381.08,168.94 L380.5,168.9 L379.91,168.86 L379.33,168.82 L378.75,168.79 L378.17,168.75 L377.58,168.71 L377,168.67 L376.42,168.63 L375.83,168.59 L375.25,168.56 L374.67,168.52 L374.09,168.48 L373.51,168.44 L372.92,168.4 L372.34,168.36 L371.76,168.33 L371.18,168.29 L370.6,168.25 L370.02,168.21 L369.43,168.17 L368.85,168.12 L368.27,168.08 L367.69,168.04 L367.11,168 L366.52,167.96 L365.94,167.92 L365.36,167.87 L364.78,167.83 L364.2,167.79 L363.61,167.75 L363.03,167.7 L362.45,167.66 L361.87,167.62 L361.29,167.57 L360.7,167.53 L360.12,167.49 L359.54,167.44 L358.96,167.4 L358.37,167.35 L357.79,167.31 L357.21,167.27 L356.63,167.22 L356.05,167.18 L355.46,167.13 L354.88,167.09 L354.3,167.04 L353.71,167 L353.13,166.96 L352.55,166.91 L351.96,166.87 L351.38,166.83 L350.8,166.78 L350.22,166.74 L349.63,166.7 L349.05,166.65 L348.47,166.61 L347.89,166.57 L347.31,166.52 L346.73,166.48 L346.15,166.43 L345.57,166.38 L344.99,166.34 L344.41,166.29 L343.83,166.24 L343.25,166.19 L342.67,166.14 L342.09,166.09 L341.51,166.04 L340.93,165.98 L340.35,165.93 L339.77,165.87 L339.2,165.81 L338.62,165.75 L338.04,165.69 L337.46,165.63 L336.88,165.57 L336.3,165.5 L335.73,165.44 L335.15,165.37 L334.57,165.3 L333.99,165.23 L333.42,165.15 L332.84,165.08 L332.26,165 L331.69,164.93 L331.11,164.85 L330.53,164.76 L329.96,164.68 L329.38,164.59 L328.81,164.5 L328.24,164.41 L327.67,164.32 L327.1,164.22 L326.53,164.11 L325.95,164 L325.38,163.89 L324.8,163.78 L324.23,163.67 L323.65,163.55 L323.08,163.43 L322.5,163.3 L321.92,163.18 L321.34,163.06 L320.76,162.93 L320.18,162.8 L319.6,162.67 L319.02,162.55 L318.45,162.42 L317.87,162.28 L317.29,162.15 L316.72,162.01 L316.14,161.88 L315.57,161.74 L314.99,161.59 L314.42,161.45 L313.84,161.3 L313.27,161.15 L312.7,160.99 L312.12,160.84 L311.55,160.68 L310.98,160.51 L310.41,160.34 L309.83,160.17 L309.24,160 L308.66,159.82 L308.08,159.64 L307.51,159.46 L306.94,159.28 L306.38,159.09 L305.82,158.9 L305.26,158.7 L304.71,158.5 L304.16,158.29 L303.61,158.07 L303.07,157.83 L302.53,157.59 L301.99,157.33 L301.46,157.06 L300.98,156.81 L300.57,156.53 L300.09,156.14 L299.52,155.66 L298.92,155.17 L298.33,154.69 L297.75,154.24 L297.18,153.79 L296.63,153.34 L296.08,152.88 L295.55,152.42 L295.02,151.93 L294.5,151.41 L293.98,150.86 L293.47,150.27 L292.95,149.62 L292.43,148.92 L291.9,148.12 L291.63,147.68 L291.5,147.46 L291.36,147.22 L291.22,146.98 L291.08,146.73 L290.94,146.47 L290.81,146.2 L290.67,145.93 L290.53,145.65 L290.39,145.36 L290.25,145.06 L290.11,144.75 L289.96,144.44 L289.82,144.11 L289.68,143.78 L289.54,143.43 L289.4,143.08 L289.25,142.71 L289.11,142.34 L288.97,141.95 L288.82,141.56 L288.68,141.15 L288.53,140.73 L288.4,140.32 L288.27,139.91 L288.13,139.43 L288,138.87 L287.86,138.25 L287.71,137.58 L287.57,136.86 L287.42,136.1 L287.27,135.32 L287.12,134.51 L286.97,133.69 L286.82,132.85 L286.67,132.02 L286.52,131.19 L286.37,130.38 L286.21,129.58 L286.06,128.81 L285.91,128.07 L285.76,127.34 L285.61,126.61 L285.46,125.88 L285.31,125.14 L285.16,124.4 L285.01,123.67 L284.86,122.93 L284.71,122.2 L284.56,121.47 L284.41,120.75 L284.25,120.03 L284.1,119.32 L283.95,118.61 L283.8,117.92 L283.65,117.23 L283.49,116.56 L283.34,115.9 L283.19,115.25 L283.04,114.6 L282.89,113.95 L282.74,113.31 L282.59,112.67 L282.44,112.04 L282.28,111.41 L282.13,110.79 L281.98,110.17 L281.83,109.56 L281.68,108.95 L281.53,108.35 L281.38,107.75 L281.22,107.16 L281.07,106.57 L280.92,105.99 L280.77,105.42 L280.62,104.85 L280.46,104.29 L280.31,103.73 L280.16,103.18 L280.01,102.64Z" fill="#23309a"/>
<path d="M278.11,16.98 L279.17,27.98 L280.29,43.19 L281.23,56.53 L282.29,68.46 L283.41,80.4 L284.47,87.18 L285.09,92.57" fill="none" stroke="#f08080" stroke-width="1"/>
<g fill="#e8141c"><circle cx="278.11" cy="16.98" r="1.5"/><circle cx="278.68" cy="22.91" r="1.5"/><circle cx="279.26" cy="29.15" r="1.5"/><circle cx="279.86" cy="37.34" r="1.5"/><circle cx="280.44" cy="45.24" r="1.5"/><circle cx="280.94" cy="52.43" r="1.5"/><circle cx="281.47" cy="59.28" r="1.5"/><circle cx="282.04" cy="65.71" r="1.5"/><circle cx="282.63" cy="72.14" r="1.5"/><circle cx="283.24" cy="78.56" r="1.5"/><circle cx="283.82" cy="83.01" r="1.5"/><circle cx="284.39" cy="86.66" r="1.5"/><circle cx="284.76" cy="89.67" r="1.5"/><circle cx="285.09" cy="92.57" r="1.5"/></g>
<path d="M310.8,39.0 H340" stroke="#bbb" stroke-width="1.0"/>
<path d="M310.8,51.6 H340" stroke="#c8404a" stroke-width="1.3"/>
<path d="M310.8,65.8 H340" stroke="#9a9ad0" stroke-width="1.3"/>
<path d="M310.8,78.8 H340" stroke="#111" stroke-width="1.5"/>
<path d="M310.8,92.8 H340" stroke="#e04050" stroke-width="1.3"/>
<path d="M310.8,105.0 H340" stroke="#2a3a90" stroke-width="1.2"/>
<circle cx="325" cy="39.0" r="1.6" fill="#fff" stroke="#888" stroke-width="0.9"/>
<path d="M325.5,48.3 L329.1,51.6 L325.5,54.9 L321.9,51.6Z" fill="#ee1010"/>
<circle cx="325.5" cy="65.8" r="2.2" fill="#6a6ac0"/>
<circle cx="325.5" cy="78.8" r="2.8" fill="#fff" stroke="#e03030" stroke-width="1.2"/>
<circle cx="325.5" cy="92.8" r="3.3" fill="#ee1010"/>
<circle cx="325.5" cy="105.0" r="1.7" fill="#0a1a80"/>
<text x="341.1" y="42.6" font-size="10.6" text-anchor="start" >ZFC (Apoferritin)</text>
<text x="341.1" y="55.2" font-size="10.6" text-anchor="start" >ZFC (An1200Fe)</text>
<text x="341.1" y="69.4" font-size="10.6" text-anchor="start" >ZFC (A1200Fe)</text>
<text x="342.3" y="82.4" font-size="10.6" text-anchor="start" >FC (Apoferritin)</text>
<text x="341.8" y="96.4" font-size="10.6" text-anchor="start" >FC (An1200Fe)</text>
<text x="343" y="108.6" font-size="10.6" text-anchor="start" >FC (A1200Fe)</text>
<path d="M35.85,210.2 L35.85,380 L223.45,380" fill="none" stroke="#1a1a1a" stroke-width="1.2"/>
<path d="M35.85,380 V383 M59.3,380 V383 M82.75,380 V383 M106.2,380 V383 M129.65,380 V383 M153.1,380 V383 M176.55,380 V383 M200,380 V383 M223.45,380 V383 M47.58,380 V382 M71.03,380 V382 M94.48,380 V382 M117.93,380 V382 M141.38,380 V382 M164.82,380 V382 M188.28,380 V382 M211.73,380 V382 M35.85,360.7 H32.85 M35.85,328.2 H32.85 M35.85,295.7 H32.85 M35.85,263.2 H32.85 M35.85,230.7 H32.85 M35.85,376.95 H33.85 M35.85,344.45 H33.85 M35.85,311.95 H33.85 M35.85,279.45 H33.85 M35.85,246.95 H33.85 M35.85,214.45 H33.85 " fill="none" stroke="#1a1a1a" stroke-width="1"/>
<text transform="translate(35.35,392.7) scale(0.93,1)" font-size="9.0" text-anchor="middle">2.0</text>
<text transform="translate(29.29,392.7) scale(0.93,1)" font-size="9.0" text-anchor="end">-</text>
<text transform="translate(58.8,392.7) scale(0.93,1)" font-size="9.0" text-anchor="middle">1.5</text>
<text transform="translate(52.74,392.7) scale(0.93,1)" font-size="9.0" text-anchor="end">-</text>
<text transform="translate(82.25,392.7) scale(0.93,1)" font-size="9.0" text-anchor="middle">1.0</text>
<text transform="translate(76.19,392.7) scale(0.93,1)" font-size="9.0" text-anchor="end">-</text>
<text transform="translate(105.7,392.7) scale(0.93,1)" font-size="9.0" text-anchor="middle">0.5</text>
<text transform="translate(99.64,392.7) scale(0.93,1)" font-size="9.0" text-anchor="end">-</text>
<text transform="translate(129.15,392.7) scale(0.93,1)" font-size="9.0" text-anchor="middle">0.0</text>
<text transform="translate(152.6,392.7) scale(0.93,1)" font-size="9.0" text-anchor="middle">0.5</text>
<text transform="translate(176.05,392.7) scale(0.93,1)" font-size="9.0" text-anchor="middle">1.0</text>
<text transform="translate(199.5,392.7) scale(0.93,1)" font-size="9.0" text-anchor="middle">1.5</text>
<text transform="translate(222.95,392.7) scale(0.93,1)" font-size="9.0" text-anchor="middle">2.0</text>
<text transform="translate(30.2,364.4) scale(0.92,1)" font-size="9.4" text-anchor="end">-1.0</text>
<text transform="translate(30.2,331.9) scale(0.92,1)" font-size="9.4" text-anchor="end">-0.5</text>
<text transform="translate(30.2,299.4) scale(0.92,1)" font-size="9.4" text-anchor="end">0.0</text>
<text transform="translate(30.2,266.9) scale(0.92,1)" font-size="9.4" text-anchor="end">0.5</text>
<text transform="translate(30.2,234.4) scale(0.92,1)" font-size="9.4" text-anchor="end">1.0</text>
<text x="3.7" y="206.9" font-size="10.3" text-anchor="start" style="stroke:none">C</text>
<text transform="translate(11.0,299.5) rotate(-90)" font-size="10.4" text-anchor="middle">Normalized Magnetization (a.u.)</text>
<text x="129.5" y="405.0" font-size="11.0" text-anchor="middle"><tspan font-style="italic">B</tspan>(T)</text>
<path d="M61.65,360.44 L62.09,360.67 L62.53,361.41 L62.97,362.02 L63.41,362.57 L63.86,361.67 L64.3,360.01 L64.74,359.47 L65.18,359.93 L65.63,360.53 L66.07,359.64 L66.51,358.85 L66.95,359.91 L67.4,360.06 L67.84,359.36 L68.28,359.52 L68.72,359.69 L69.17,361.62 L69.61,361.09 L70.05,361.68 L70.49,359.53 L70.94,358.74 L71.38,356.12 L71.82,355 L72.26,353.32 L72.71,355.06 L73.15,355.11 L73.59,354.57 L74.03,352.05 L74.48,352.88 L74.92,353.31 L75.36,354.39 L75.8,353.96 L76.25,352.85 L76.69,352.96 L77.13,352.56 L77.57,353 L78.02,353.08 L78.46,353.41 L78.9,354.31 L79.34,353.94 L79.79,355.04 L80.23,355.13 L80.67,354.01 L81.11,354.21 L81.56,353.41 L82,354.3 L82.44,353.28 L82.88,352 L83.33,351.13 L83.77,351.25 L84.21,352.53 L84.65,352.27 L85.09,350.95 L85.54,349.96 L85.98,350.04 L86.42,348.82 L86.86,347.67 L87.31,347.71 L87.75,347.62 L88.19,348.79 L88.63,347.63 L89.08,348.39 L89.52,348.06 L89.96,347.94 L90.4,345.74 L90.85,343.84 L91.29,344.42 L91.73,345.48 L92.17,345.5 L92.62,345.67 L93.06,344.97 L93.5,345.2 L93.94,341.96 L94.39,340.54 L94.83,340.31 L95.27,341.29 L95.71,341.67 L96.16,339.63 L96.6,339.23 L97.04,338.83 L97.48,339.39 L97.93,338.67 L98.37,338.12 L98.81,338.92 L99.25,338.35 L99.7,338.09 L100.14,335.63 L100.58,334.58 L101.02,333.73 L101.47,333.67 L101.91,334.04 L102.35,332.62 L102.79,332.7 L103.24,331.4 L103.68,332.93 L104.12,332.12 L104.56,333.58 L105.01,333.71 L105.45,333.75 L105.89,332.55 L106.33,330.12 L106.78,327.38 L107.22,326.78 L107.66,326.93 L108.1,328.15 L108.55,326.46 L108.99,325.52 L109.43,325.32 L109.87,324.58 L110.31,323.41 L110.76,323.55 L111.2,323.66 L111.64,323.49 L112.08,322.93 L112.53,322.04 L112.97,322.22 L113.41,319.86 L113.85,319.31 L114.3,317.88 L114.74,318.61 L115.18,318.26 L115.62,319.43 L116.07,319.26 L116.51,318.18 L116.95,317.62 L117.39,315.22 L117.84,316.34 L118.28,313.13 L118.72,313.87 L119.16,310.95 L119.61,310.75 L120.05,310.6 L120.49,309.43 L120.93,307.54 L121.38,305.5 L121.82,306.05 L122.26,306.66 L122.7,306.68 L123.15,304.72 L123.59,304.28 L124.03,302.71 L124.47,303.59 L124.92,302.9 L125.36,303.21 L125.8,300.67 L126.24,299.5 L126.69,296.78 L127.13,297.09 L127.57,296.79 L128.01,297.14 L128.46,296.86 L128.9,295.47 L129.34,294.73 L129.78,293.72 L130.23,294.14 L130.67,293.73 L131.11,291.25 L131.55,289.84 L132,288.35 M87.44,361.32 L87.95,360.35 L88.47,360.92 L88.98,361.59 L89.5,363.55 L90.01,363.98 L90.52,363.31 L91.04,362.91 L91.55,361.44 L92.07,362.83 L92.58,362.5 L93.09,363.1 L93.61,362.64 L94.12,364.05 L94.64,364.68 L95.15,363.43 L95.66,362.93 L96.18,361.65 L96.69,362.85 L97.21,362.8 L97.72,363.5 L98.23,362.93 L98.75,362.81 L99.26,362.49 L99.78,362.9 L100.29,361.34 L100.8,360.19 L101.32,359.31 L101.83,360.14 L102.35,361.15 L102.86,359.79 L103.37,357.53 L103.89,355.47 L104.4,354.79 L104.92,353.89 L105.43,351.96 L105.94,350.17 L106.46,349.41 L106.97,346.72 L107.48,346.38 L108,343.01 L108.51,341.78 L109.03,338.05 L109.54,335.63 L110.05,333.46 L110.57,333.99 L111.08,335.93 L111.6,335.42 L112.11,334.27 L112.62,331.83 L113.14,330.85 L113.65,330.46 L114.17,331.35 L114.68,330.93 L115.19,328.53 L115.71,325.96 L116.22,325.2 L116.74,325.06 L117.25,325.25 L117.76,324.54 L118.28,323.76 L118.79,323.01 L119.31,321.57 L119.82,319.92 L120.33,317.3 L120.85,317.74 L121.36,317.4 L121.88,317.76 L122.39,316.8 L122.9,315.17 L123.42,314.09 L123.93,312.1 L124.45,311.03 L124.96,307.64 L125.47,308.18 L125.99,306.71 L126.5,307.53 L127.02,305.31 L127.53,306.29 L128.04,305.56 L128.56,303.85 L129.07,301.59 L129.59,300.04 L130.1,299.85 L130.61,297.69 L131.13,296.68 L131.64,297.23 L132.16,297.73 L132.67,298.31 L133.18,298.11 L133.7,296.86 L134.21,292.9 L134.73,288.93 L135.24,288.35 L135.75,289.16 L136.27,287.04 L136.78,284.69 L137.3,282.63 L137.81,282.44 L138.32,281.33 L138.84,279.47 L139.35,277.74 L139.87,276.4 L140.38,276.83 L140.89,275.72 L141.41,275.37 L141.92,272.43 L142.44,272.91 L142.95,271.42 L143.46,271.4 L143.98,270.51 L144.49,267.98 L145,265.81 L145.52,264.18 L146.03,264.13 L146.55,264.2 L147.06,265.22 L147.57,264.85 L148.09,264.42 L148.6,261.29 L149.12,261.67 L149.63,261.09 L150.14,260.58 L150.66,257.89 L151.17,256.67 L151.69,255.84 L152.2,254.89 L152.71,255.02 L153.23,254.74 L153.74,257.04 L154.26,254.62 L154.77,252.89 L155.28,249.97 L155.8,250.21 L156.31,250.43 L156.83,250.53 L157.34,250.83 L157.85,250.61 L158.37,250.27 L158.88,248.27 L159.4,247.14 L159.91,246.78 L160.42,248.14 L160.94,248.73 L161.45,246.84 L161.97,245.46 L162.48,244.41 L162.99,245.67 L163.51,246.63 L164.02,246.32 L164.54,244.84 L165.05,243.8 L165.56,243.52 L166.08,244.06 L166.59,243.22 L167.11,244 L167.62,243.62 L168.13,244.07 L168.65,241.54 L169.16,241.63 L169.68,240.03 L170.19,239.11 L170.7,238.36 L171.22,239.04 L171.73,239.86 L172.25,239.26 L172.76,239.25 L173.27,238.66 L173.79,236.55 L174.3,235.55 L174.82,235.77 L175.33,238.06 L175.84,237.21 L176.36,237.78 L176.87,237.5 L177.39,236.36 L177.9,235.77 L178.41,233.61 L178.93,233.15 L179.44,231.93 L179.96,232.21 L180.47,231.7 L180.98,231.99 L181.5,232.91 L182.01,235.71 L182.52,235.45 L183.04,233.6 L183.55,231.54 L184.07,232.34 L184.58,234.32 L185.09,235.54 L185.61,234.43 L186.12,233.83 L186.64,233.17 L187.15,233.14 L187.66,233.19 L188.18,233.39 L188.69,233.45 L189.21,233.25 L189.72,232.76 L190.23,231.32 L190.75,230.73 L191.26,231.12 L191.78,234.21 L192.29,234.4 L192.8,236.15 L193.32,235.93 L193.83,235.54 L194.35,233.27 L194.86,232.21 L195.37,234.47 L195.89,235.44 L196.4,235.94 L196.92,233.95 L197.43,231.72 L197.94,231 L198.46,232.28 L198.97,235.32 L199.49,235.62 L200,235.01" fill="none" stroke="#c6c6c6" stroke-width="4.6" stroke-linejoin="round"/>
<path d="M35.85,360.7 L36.32,360.7 L36.79,360.7 L37.26,360.7 L37.73,360.7 L38.2,360.7 L38.67,360.7 L39.14,360.7 L39.61,360.7 L40.08,360.7 L40.55,360.7 L41.02,360.7 L41.49,360.7 L41.96,360.7 L42.43,360.7 L42.9,360.7 L43.37,360.7 L43.84,360.7 L44.31,360.7 L44.78,360.7 L45.25,360.7 L45.72,360.7 L46.19,360.7 L46.66,360.7 L47.13,360.7 L47.6,360.7 L48.07,360.7 L48.54,360.7 L49.01,360.7 L49.49,360.7 L49.96,360.7 L50.43,360.7 L50.9,360.7 L51.37,360.7 L51.84,360.7 L52.31,360.7 L52.78,360.7 L53.25,360.7 L53.72,360.7 L54.19,360.7 L54.66,360.7 L55.13,360.7 L55.6,360.7 L56.07,360.7 L56.54,360.7 L57.01,360.7 L57.48,360.7 L57.95,360.7 L58.42,360.7 L58.89,360.7 L59.36,360.7 L59.83,360.7 L60.3,360.7 L60.77,360.7 L61.24,360.7 L61.71,360.7 L62.18,360.7 L62.65,360.7 L63.12,360.7 L63.59,360.7 L64.06,360.7 L64.53,360.7 L65,360.7 L65.47,360.7 L65.94,360.7 L66.41,360.7 L66.88,360.7 L67.35,360.7 L67.82,360.7 L68.29,360.7 L68.76,360.7 L69.23,360.7 L69.7,360.7 L70.17,360.7 L70.64,360.7 L71.11,360.7 L71.58,360.7 L72.05,360.7 L72.52,360.7 L72.99,360.7 L73.46,360.7 L73.93,360.7 L74.4,360.7 L74.87,360.7 L75.34,360.7 L75.81,360.7 L76.29,360.7 L76.76,360.7 L77.23,360.7 L77.7,360.7 L78.17,360.7 L78.64,360.7 L79.11,360.7 L79.58,360.7 L80.05,360.7 L80.52,360.7 L80.99,360.7 L81.46,360.7 L81.93,360.7 L82.4,360.7 L82.87,360.7 L83.34,360.69 L83.81,360.68 L84.28,360.66 L84.75,360.63 L85.22,360.6 L85.69,360.56 L86.16,360.51 L86.63,360.46 L87.1,360.4 L87.57,360.33 L88.04,360.26 L88.51,360.18 L88.98,360.1 L89.45,360.01 L89.92,359.92 L90.39,359.82 L90.86,359.72 L91.33,359.61 L91.8,359.5 L92.27,359.38 L92.74,359.26 L93.21,359.14 L93.68,359.02 L94.15,358.89 L94.62,358.75 L95.09,358.62 L95.56,358.48 L96.03,358.34 L96.5,358.2 L96.97,358.05 L97.44,357.87 L97.91,357.66 L98.38,357.41 L98.85,357.14 L99.32,356.84 L99.79,356.52 L100.26,356.19 L100.73,355.85 L101.2,355.49 L101.67,355.13 L102.14,354.78 L102.61,354.42 L103.09,354.08 L103.56,353.74 L104.03,353.4 L104.5,353.06 L104.97,352.71 L105.44,352.36 L105.91,352 L106.38,351.64 L106.85,351.26 L107.32,350.86 L107.79,350.45 L108.26,350.01 L108.73,349.56 L109.2,349.08 L109.67,348.57 L110.14,348.04 L110.61,347.47 L111.08,346.82 L111.55,346.11 L112.02,345.32 L112.49,344.47 L112.96,343.57 L113.43,342.62 L113.9,341.62 L114.37,340.59 L114.84,339.53 L115.31,338.44 L115.78,337.34 L116.25,336.23 L116.72,335.11 L117.19,334 L117.66,332.89 L118.13,331.8 L118.6,330.73 L119.07,329.69 L119.54,328.67 L120.01,327.67 L120.48,326.67 L120.95,325.66 L121.42,324.65 L121.89,323.62 L122.36,322.56 L122.83,321.46 L123.3,320.32 L123.77,319.14 L124.24,317.89 L124.71,316.57 L125.18,315.17 L125.65,313.62 L126.12,311.93 L126.59,310.14 L127.06,308.25 L127.53,306.32 L128,304.36 L128.47,302.37 L128.94,300.23 L129.41,297.85 L129.89,295.1 L130.36,291.42 L130.83,287.02 L131.3,282.49 L131.77,278.42 L132.24,275.34 L132.71,272.7 L133.18,270.24 L133.65,267.95 L134.12,265.83 L134.59,263.89 L135.06,262.11 L135.53,260.51 L136,259.07 L136.47,257.78 L136.94,256.58 L137.41,255.46 L137.88,254.41 L138.35,253.44 L138.82,252.52 L139.29,251.67 L139.76,250.87 L140.23,250.11 L140.7,249.39 L141.17,248.71 L141.64,248.07 L142.11,247.46 L142.58,246.88 L143.05,246.32 L143.52,245.79 L143.99,245.28 L144.46,244.78 L144.93,244.3 L145.4,243.82 L145.87,243.35 L146.34,242.88 L146.81,242.41 L147.28,241.93 L147.75,241.44 L148.22,240.95 L148.69,240.44 L149.16,239.93 L149.63,239.42 L150.1,238.92 L150.57,238.41 L151.04,237.92 L151.51,237.43 L151.98,236.96 L152.45,236.5 L152.92,236.06 L153.39,235.64 L153.86,235.24 L154.33,234.87 L154.8,234.5 L155.27,234.15 L155.74,233.8 L156.21,233.47 L156.69,233.16 L157.16,232.87 L157.63,232.62 L158.1,232.39 L158.57,232.2 L159.04,232.01 L159.51,231.83 L159.98,231.66 L160.45,231.49 L160.92,231.34 L161.39,231.2 L161.86,231.07 L162.33,230.96 L162.8,230.86 L163.27,230.78 L163.74,230.72 L164.21,230.67 L164.68,230.63 L165.15,230.58 L165.62,230.54 L166.09,230.5 L166.56,230.47 L167.03,230.43 L167.5,230.39 L167.97,230.36 L168.44,230.33 L168.91,230.3 L169.38,230.27 L169.85,230.24 L170.32,230.22 L170.79,230.19 L171.26,230.17 L171.73,230.15 L172.2,230.13 L172.67,230.12 L173.14,230.1 L173.61,230.09 L174.08,230.08 L174.55,230.07 L175.02,230.06 L175.49,230.06 L175.96,230.05 L176.43,230.05 L176.9,230.05 L177.37,230.05 L177.84,230.05 L178.31,230.05 L178.78,230.05 L179.25,230.05 L179.72,230.05 L180.19,230.05 L180.66,230.05 L181.13,230.05 L181.6,230.05 L182.07,230.05 L182.54,230.05 L183.01,230.05 L183.49,230.05 L183.96,230.05 L184.43,230.05 L184.9,230.05 L185.37,230.05 L185.84,230.05 L186.31,230.05 L186.78,230.05 L187.25,230.05 L187.72,230.05 L188.19,230.05 L188.66,230.05 L189.13,230.05 L189.6,230.05 L190.07,230.05 L190.54,230.05 L191.01,230.05 L191.48,230.05 L191.95,230.05 L192.42,230.05 L192.89,230.05 L193.36,230.05 L193.83,230.05 L194.3,230.05 L194.77,230.05 L195.24,230.05 L195.71,230.05 L196.18,230.05 L196.65,230.05 L197.12,230.05 L197.59,230.05 L198.06,230.05 L198.53,230.05 L199,230.05 L199.47,230.05 L199.94,230.05 L200.41,230.05 L200.88,230.05 L201.35,230.05 L201.82,230.05 L202.29,230.05 L202.76,230.05 L203.23,230.05 L203.7,230.05 L204.17,230.05 L204.64,230.05 L205.11,230.05 L205.58,230.05 L206.05,230.05 L206.52,230.05 L206.99,230.05 L207.46,230.05 L207.93,230.05 L208.4,230.05 L208.87,230.05 L209.34,230.05 L209.81,230.05 L210.29,230.05 L210.76,230.05 L211.23,230.05 L211.7,230.05 L212.17,230.05 L212.64,230.05 L213.11,230.05 L213.58,230.05 L214.05,230.05 L214.52,230.05 L214.99,230.05 L215.46,230.05 L215.93,230.05 L216.4,230.05 L216.87,230.05 L217.34,230.05 L217.81,230.05 L218.28,230.05 L218.75,230.05 L219.22,230.05 L219.69,230.05 L220.16,230.05 L220.63,230.05 L221.1,230.05 L221.57,230.05 L222.04,230.05 L222.51,230.05 L222.98,230.05 L223.45,230.05" fill="none" stroke="#333" stroke-width="1.5"/>
<g fill="#383838"><rect x="33.85" y="358.95" width="4" height="4"/><rect x="38.54" y="360.35" width="4" height="4"/><rect x="43.23" y="358.53" width="4" height="4"/><rect x="47.92" y="360.35" width="4" height="4"/><rect x="52.61" y="357.11" width="4" height="4"/><rect x="57.3" y="357.18" width="4" height="4"/><rect x="61.99" y="357.15" width="4" height="4"/><rect x="66.68" y="359.38" width="4" height="4"/><rect x="71.37" y="357.96" width="4" height="4"/><rect x="76.06" y="358.89" width="4" height="4"/><rect x="80.75" y="359.26" width="4" height="4"/><rect x="85.44" y="358.83" width="4" height="4"/><rect x="90.13" y="359.28" width="4" height="4"/><rect x="94.82" y="358.16" width="4" height="4"/><rect x="99.51" y="353.26" width="4" height="4"/><rect x="101.86" y="351.52" width="4" height="4"/><rect x="104.2" y="349.78" width="4" height="4"/><rect x="106.55" y="347.74" width="4" height="4"/><rect x="108.89" y="345.09" width="4" height="4"/><rect x="111.24" y="341.02" width="4" height="4"/><rect x="113.58" y="335.81" width="4" height="4"/><rect x="115.93" y="330.28" width="4" height="4"/><rect x="118.27" y="325.12" width="4" height="4"/><rect x="120.62" y="319.97" width="4" height="4"/><rect x="122.96" y="313.85" width="4" height="4"/><rect x="125.31" y="305.27" width="4" height="4"/><rect x="127.65" y="294.53" width="4" height="4"/><rect x="130" y="274.78" width="4" height="4"/><rect x="132.34" y="262.89" width="4" height="4"/><rect x="134.69" y="255.21" width="4" height="4"/><rect x="137.03" y="250.13" width="4" height="4"/><rect x="139.38" y="246.43" width="4" height="4"/><rect x="141.72" y="243.57" width="4" height="4"/><rect x="144.07" y="241.16" width="4" height="4"/><rect x="146.41" y="238.75" width="4" height="4"/><rect x="148.76" y="236.22" width="4" height="4"/><rect x="151.1" y="233.9" width="4" height="4"/><rect x="153.45" y="232.02" width="4" height="4"/><rect x="155.79" y="230.54" width="4" height="4"/><rect x="160.48" y="229.2" width="4" height="4"/><rect x="165.17" y="227.53" width="4" height="4"/><rect x="169.86" y="229.89" width="4" height="4"/><rect x="174.55" y="227.95" width="4" height="4"/><rect x="179.24" y="225.99" width="4" height="4"/><rect x="183.93" y="229.19" width="4" height="4"/><rect x="188.62" y="225.87" width="4" height="4"/><rect x="193.31" y="226.92" width="4" height="4"/><rect x="198" y="228.89" width="4" height="4"/><rect x="202.69" y="228.12" width="4" height="4"/><rect x="207.38" y="228.06" width="4" height="4"/><rect x="212.07" y="227.47" width="4" height="4"/><rect x="216.76" y="228.17" width="4" height="4"/><rect x="221.45" y="228.58" width="4" height="4"/></g>
<path d="M35.85,360.7 H122.62 M136.69,230.05 H223.45" fill="none" stroke="#0a0a0a" stroke-width="1.5"/>
<path d="M122.62,360.7 H129.88 V230.05 H136.69" fill="none" stroke="#0a0a0a" stroke-width="2.8"/>
<g fill="#0a0a0a"><circle cx="35.85" cy="360.82" r="2.2"/><circle cx="40.31" cy="361.1" r="2.2"/><circle cx="44.76" cy="361.2" r="2.2"/><circle cx="49.22" cy="360.72" r="2.2"/><circle cx="53.67" cy="360.36" r="2.2"/><circle cx="58.13" cy="361.3" r="2.2"/><circle cx="62.58" cy="360.7" r="2.2"/><circle cx="67.04" cy="360.95" r="2.2"/><circle cx="71.49" cy="361.08" r="2.2"/><circle cx="75.95" cy="360.37" r="2.2"/><circle cx="80.41" cy="360.9" r="2.2"/><circle cx="84.86" cy="360.12" r="2.2"/><circle cx="89.32" cy="361" r="2.2"/><circle cx="93.77" cy="360.55" r="2.2"/><circle cx="98.23" cy="360.79" r="2.2"/><circle cx="102.68" cy="360.99" r="2.2"/><circle cx="107.14" cy="360.47" r="2.2"/><circle cx="111.59" cy="360.76" r="2.2"/><circle cx="116.05" cy="360.46" r="2.2"/><circle cx="120.5" cy="360.72" r="2.2"/><circle cx="124.96" cy="361.12" r="2.2"/><circle cx="129.42" cy="360.74" r="2.2"/><circle cx="133.87" cy="230.03" r="2.2"/><circle cx="138.33" cy="229.68" r="2.2"/><circle cx="142.78" cy="230.4" r="2.2"/><circle cx="147.24" cy="230.07" r="2.2"/><circle cx="151.69" cy="230.72" r="2.2"/><circle cx="156.15" cy="229.8" r="2.2"/><circle cx="160.6" cy="230.47" r="2.2"/><circle cx="165.06" cy="230.75" r="2.2"/><circle cx="169.51" cy="230.07" r="2.2"/><circle cx="173.97" cy="229.62" r="2.2"/><circle cx="178.43" cy="230.64" r="2.2"/><circle cx="182.88" cy="230.47" r="2.2"/><circle cx="187.34" cy="230.34" r="2.2"/><circle cx="191.79" cy="230.49" r="2.2"/><circle cx="196.25" cy="229.9" r="2.2"/><circle cx="200.7" cy="230.36" r="2.2"/><circle cx="205.16" cy="230.33" r="2.2"/><circle cx="209.61" cy="229.82" r="2.2"/><circle cx="214.07" cy="230.34" r="2.2"/><circle cx="218.53" cy="229.88" r="2.2"/><circle cx="222.98" cy="230.43" r="2.2"/></g>
<path d="M71.03,360.7 L71.61,360.62 L72.2,360.52 L72.79,360.39 L73.37,360.25 L73.96,360.08 L74.55,359.9 L75.13,359.67 L75.72,359.4 L76.31,359.1 L76.89,358.76 L77.48,358.39 L78.07,358 L78.65,357.58 L79.24,357.14 L79.83,356.68 L80.41,356.2 L81,355.71 L81.59,355.21 L82.17,354.7 L82.76,354.19 L83.35,353.67 L83.94,353.15 L84.52,352.63 L85.11,352.12 L85.7,351.62 L86.28,351.13 L86.87,350.65 L87.46,350.17 L88.04,349.68 L88.63,349.19 L89.22,348.69 L89.8,348.19 L90.39,347.69 L90.98,347.18 L91.56,346.66 L92.15,346.14 L92.74,345.62 L93.32,345.09 L93.91,344.56 L94.5,344.02 L95.09,343.47 L95.67,342.92 L96.26,342.37 L96.85,341.8 L97.43,341.24 L98.02,340.66 L98.61,340.08 L99.19,339.49 L99.78,338.9 L100.37,338.3 L100.95,337.69 L101.54,337.08 L102.13,336.45 L102.71,335.82 L103.3,335.19 L103.89,334.54 L104.47,333.89 L105.06,333.22 L105.65,332.55 L106.24,331.86 L106.82,331.17 L107.41,330.46 L108,329.75 L108.58,329.02 L109.17,328.29 L109.76,327.54 L110.34,326.78 L110.93,326.01 L111.52,325.23 L112.1,324.44 L112.69,323.63 L113.28,322.82 L113.86,321.99 L114.45,321.14 L115.04,320.29 L115.62,319.42 L116.21,318.54 L116.8,317.63 L117.39,316.69 L117.97,315.74 L118.56,314.76 L119.15,313.76 L119.73,312.74 L120.32,311.71 L120.91,310.65 L121.49,309.58 L122.08,308.5 L122.67,307.4 L123.25,306.28 L123.84,305.15 L124.43,304 L125.01,302.81 L125.6,301.59 L126.19,300.32 L126.77,299.03 L127.36,297.72 L127.95,296.38 L128.54,295.02 L129.12,293.65 L129.71,292.26 L130.3,290.88 L130.88,289.49 L131.47,288.1 L132.06,286.72 L132.64,285.35 L133.23,283.99 L133.82,282.66 L134.4,281.34 L134.99,280.06 L135.58,278.8 L136.16,277.58 L136.75,276.39 L137.34,275.23 L137.92,274.06 L138.51,272.9 L139.1,271.74 L139.69,270.6 L140.27,269.46 L140.86,268.34 L141.45,267.24 L142.03,266.16 L142.62,265.1 L143.21,264.06 L143.79,263.05 L144.38,262.07 L144.97,261.13 L145.55,260.21 L146.14,259.34 L146.73,258.5 L147.31,257.68 L147.9,256.88 L148.49,256.09 L149.07,255.32 L149.66,254.56 L150.25,253.82 L150.84,253.09 L151.42,252.38 L152.01,251.69 L152.6,251.01 L153.18,250.34 L153.77,249.69 L154.36,249.05 L154.94,248.43 L155.53,247.83 L156.12,247.24 L156.7,246.66 L157.29,246.1 L157.88,245.55 L158.46,245.01 L159.05,244.48 L159.64,243.96 L160.22,243.45 L160.81,242.95 L161.4,242.45 L161.99,241.97 L162.57,241.49 L163.16,241.03 L163.75,240.57 L164.33,240.13 L164.92,239.69 L165.51,239.27 L166.09,238.86 L166.68,238.46 L167.27,238.07 L167.85,237.7 L168.44,237.33 L169.03,236.99 L169.61,236.65 L170.2,236.33 L170.79,236.02 L171.37,235.72 L171.96,235.44 L172.55,235.16 L173.14,234.89 L173.72,234.63 L174.31,234.37 L174.9,234.12 L175.48,233.88 L176.07,233.64 L176.66,233.41 L177.24,233.18 L177.83,232.95 L178.42,232.72 L179,232.49 L179.59,232.26 L180.18,232.03 L180.76,231.8 L181.35,231.56 L181.94,231.32 L182.52,231.07 L183.11,230.82 L183.7,230.57 L184.28,230.31 L184.87,230.05 L185.46,229.79 L186.05,229.53 L186.63,229.27 L187.22,229.01 L187.81,228.75" fill="none" stroke="#b0309a" stroke-width="2.2"/>
<path d="M37,264.1 H58.4 M37,278 H58.4 M37,290.4 H58.4" stroke="#111" stroke-width="1.4"/>
<circle cx="48.3" cy="264.1" r="2.6" fill="#111"/>
<rect x="46.1" y="275.8" width="4.4" height="4.4" fill="#333"/>
<circle cx="48.3" cy="290.4" r="2.7" fill="#c4c4c4"/>
<path d="M38.1,304.2 H60.2" stroke="#8a1060" stroke-width="1.6"/>
<text x="60.2" y="268.9" font-size="10.9">Ni<tspan font-size="5.8" dy="-4">TS</tspan><tspan dy="4">(200nm)</tspan></text>
<text x="60.2" y="282.7" font-size="10.9" text-anchor="start" >An1200Fe</text>
<text x="59.3" y="295.1" font-size="10.9" text-anchor="start" >A1200Fe</text>
<text x="63.2" y="307.8" font-size="9.5" text-anchor="start" >fit</text>
<path d="M276.6,209.5 L276.6,379.6 L467.1,379.6" fill="none" stroke="#1a1a1a" stroke-width="1.2"/>
<path d="M276.6,379.6 V382.6 M308.35,379.6 V382.6 M340.1,379.6 V382.6 M371.85,379.6 V382.6 M403.6,379.6 V382.6 M435.35,379.6 V382.6 M467.1,379.6 V382.6 M292.48,379.6 V381.6 M324.23,379.6 V381.6 M355.98,379.6 V381.6 M387.73,379.6 V381.6 M419.48,379.6 V381.6 M451.23,379.6 V381.6 M276.6,379.6 H273.6 M276.6,303.7 H273.6 M276.6,228.5 H273.6 M276.6,341.6 H274.6 M276.6,266.1 H274.6 " fill="none" stroke="#1a1a1a" stroke-width="1"/>
<text transform="translate(276.3,392.3) scale(1.0,1)" font-size="9.2" text-anchor="middle">0</text>
<text transform="translate(308.05,392.3) scale(1.0,1)" font-size="9.2" text-anchor="middle">50</text>
<text transform="translate(339.8,392.3) scale(1.0,1)" font-size="9.2" text-anchor="middle">100</text>
<text transform="translate(371.55,392.3) scale(1.0,1)" font-size="9.2" text-anchor="middle">150</text>
<text transform="translate(403.3,392.3) scale(1.0,1)" font-size="9.2" text-anchor="middle">200</text>
<text transform="translate(435.05,392.3) scale(1.0,1)" font-size="9.2" text-anchor="middle">250</text>
<text transform="translate(466.8,392.3) scale(1.0,1)" font-size="9.2" text-anchor="middle">300</text>
<text x="246.3" y="381.3" font-size="9.5">4x10<tspan font-size="6" dx="0.6" dy="-4.6">-3</tspan></text>
<text x="246.3" y="306.7" font-size="9.5">5x10<tspan font-size="6" dx="0.6" dy="-4.6">-3</tspan></text>
<text x="246.3" y="231.3" font-size="9.5">6x10<tspan font-size="6" dx="0.6" dy="-4.6">-3</tspan></text>
<text x="236.3" y="207.8" font-size="10.3" text-anchor="start" style="stroke:none">D</text>
<text transform="translate(244.6,294.0) rotate(-90)" font-size="10.5" text-anchor="middle">Magnetization (emu/g)</text>
<text x="374.6" y="404.8" font-size="11.0" text-anchor="middle"><tspan font-style="italic">T</tspan>(K)</text>
<path d="M277.3,344.4 L278.05,337.32 L278.8,330.4 L279.55,323.62 L280.3,316.8 L281.05,309.75 L281.8,303.51 L282.55,298.83 L283.3,294.7 L284.05,292.14 L284.8,292.59 L285.55,294.97 L286.3,297.43 L287.05,301.17 L287.8,304.55 L288.55,306.74 L289.3,309.51 L290.05,313.02 L290.8,316.93 L291.55,314.37 L292.3,319.97 L293.05,319.63 L293.8,324.11 L294.55,322.6 L295.3,325.3 L296.05,324.75 L296.8,327.02 L297.55,333.3 L298.3,333.77 L299.05,332.36 L299.8,332.43 L300.55,330.67 L301.3,336.15 L302.05,338.45 L302.8,339.43 L303.55,340.53 L304.3,337.88 L305.05,342.83 L305.8,343.98 L306.55,350.23 L307.3,353.64 L308.05,346.42 L308.8,344.57 L309.55,348.3 L310.3,346.58 L311.05,346.58 L311.8,350.33 L312.55,346.32 L313.3,354.78 L314.05,351.96 L314.8,354.31 L315.55,352.68 L316.3,350.36 L317.05,349.62 L317.8,353.83 L318.55,352.53 L319.3,357.24 L320.05,356.26 L320.8,348.73 L321.55,357.25 L322.3,349.3 L323.05,353.72 L323.8,355.79 L324.55,345.66 L325.3,358.42 L326.05,358.95 L326.8,357.33 L327.55,355.94 L328.3,356.38 L329.05,353.01 L329.8,357.21 L330.55,355.66 L331.3,359.47 L332.05,352 L332.8,360.37 L333.55,359.83 L334.3,358.16 L335.05,356.41 L335.8,362.12 L336.55,349.22 L337.3,361.49 L338.05,360.16 L338.8,360.32 L339.55,360.82 L340.3,354.72 L341.05,356.91 L341.8,362.01 L342.55,360.71 L343.3,359.3 L344.05,349.2 L344.8,360.99 L345.55,364.53 L346.3,363.48 L347.05,358.85 L347.8,348.34 L348.55,362.71 L349.3,356.26 L350.05,342.3 L350.8,359.05 L351.55,348.06 L352.3,349.03 L353.05,352.69 L353.8,363.57 L354.55,353.85 L355.3,357.36 L356.05,365.71 L356.8,364.6 L357.55,354.52 L358.3,353.49 L359.05,347.33 L359.8,350.37 L360.55,356.62 L361.3,356.19 L362.05,354.28 L362.8,359.15 L363.55,348.64 L364.3,352.54 L365.05,356.85 L365.8,355.74 L366.55,358.31 L367.3,354.15 L368.05,349.81 L368.8,353.47 L369.55,345.32 L370.3,341.4 L371.05,354.05 L371.8,350.14 L372.55,352.03 L373.3,340.18 L374.05,347.69 L374.8,346.11 L375.55,344.36 L376.3,336.07 L377.05,346.99 L377.8,353.92 L378.55,350.71 L379.3,344.79 L380.05,347.97 L380.8,352.23 L381.55,331.61 L382.3,346.67 L383.05,350.32 L383.8,350.9 L384.55,356.58 L385.3,353.07 L386.05,348.07 L386.8,347.78 L387.55,350.35 L388.3,342.42 L389.05,345.08 L389.8,350.32 L390.55,356.17 L391.3,343.64 L392.05,344.02 L392.8,345.19 L393.55,351.56 L394.3,343.33 L395.05,351.75 L395.8,337.34 L396.55,341.58 L397.3,341.23 L398.05,346.65 L398.8,347.85 L399.55,332.74 L400.3,335.89 L401.05,342.85 L401.8,336.77 L402.55,331.46 L403.3,346.01 L404.05,342.54 L404.8,342.23 L405.55,336.3 L406.3,344.72 L407.05,337.05 L407.8,344.49 L408.55,332.53 L409.3,332.55 L410.05,338.39 L410.8,332.82 L411.55,340.5 L412.3,337.79 L413.05,330.62 L413.8,336.09 L414.55,333.33 L415.3,340.38 L416.05,331.11 L416.8,331.93 L417.55,341.22 L418.3,346.89 L419.05,345.21 L419.8,333.7 L420.55,334.33 L421.3,341.68 L422.05,331.8 L422.8,326.59 L423.55,332.68 L424.3,334.36 L425.05,326.69 L425.8,321.7 L426.55,322.68 L427.3,334.64 L428.05,326.16 L428.8,329.52 L429.55,331.36 L430.3,333.51 L431.05,327.77 L431.8,332.4 L432.55,324.15 L433.3,327.01 L434.05,322.97 L434.8,335.28 L435.55,328.36 L436.3,324.03 L437.05,326.09 L437.8,326.65 L438.55,331.81 L439.3,318.3 L440.05,321.35 L440.8,324.99 L441.55,341.69 L442.3,332.36 L443.05,325.99 L443.8,330.59 L444.55,338.22 L445.3,324.75 L446.05,323.81 L446.8,332.79 L447.55,328.46 L448.3,329.32 L449.05,322.31 L449.8,336.26 L450.55,334.85 L451.3,328.06 L452.05,328.59 L452.8,312.71 L453.55,328.01 L454.3,323.04 L455.05,326.53 L455.8,327.83 L456.55,321.75 L457.3,313.78 L458.05,325.58 L458.8,319.01 L459.55,321.26 L460.3,319.54 L461.05,320.94 L461.8,309.4 L462.55,329.73 L463.3,324.02 L464.05,328.88 L464.8,333.8 L465.55,322.34 L466.3,311.65" fill="none" stroke="#0a0a0a" stroke-width="1.5" stroke-linejoin="bevel"/>
<path d="M277.3,232.3 L278.05,235.21 L278.8,238.6 L279.55,242.42 L280.3,246.7 L281.05,251.49 L281.8,256.87 L282.55,263.1 L283.3,270.94 L284.05,278.97 L284.8,286.68 L285.55,294.43 L286.3,300.84 L287.05,303.97 L287.8,307.46 L288.55,310.9 L289.3,312.93 L290.05,314.11 L290.8,315.22 L291.55,315.56 L292.3,320.22 L293.05,320.79 L293.8,323.27 L294.55,325.43 L295.3,328.39 L296.05,329.65 L296.8,332.03 L297.55,331.41 L298.3,334.19 L299.05,341.95 L299.8,337.29 L300.55,337.88 L301.3,341.22 L302.05,342.87 L302.8,337.67 L303.55,341.68 L304.3,346.69 L305.05,345.24 L305.8,345.59 L306.55,352.13 L307.3,344.1 L308.05,347.99 L308.8,346.21 L309.55,355.58 L310.3,341.12 L311.05,347.31 L311.8,348.38 L312.55,354.36 L313.3,354.5 L314.05,358.77 L314.8,344.35 L315.55,356.35 L316.3,351.27 L317.05,349.52 L317.8,356.19 L318.55,348.46 L319.3,342.13 L320.05,351.82 L320.8,345.46 L321.55,350.52 L322.3,356.61 L323.05,356.43 L323.8,364 L324.55,353.81 L325.3,346.25 L326.05,350.92 L326.8,350.14 L327.55,348.56 L328.3,358.29 L329.05,352.15 L329.8,344.53 L330.55,360.13 L331.3,355.5 L332.05,358.26 L332.8,356.81 L333.55,359.86 L334.3,356.39 L335.05,363.31 L335.8,358.56 L336.55,358.31 L337.3,358.35 L338.05,347.45 L338.8,354.86 L339.55,354.22 L340.3,356.83 L341.05,347.64 L341.8,364.89 L342.55,355.9 L343.3,348.14 L344.05,345.13 L344.8,353.29 L345.55,354.27 L346.3,350.49 L347.05,355.06 L347.8,350.67 L348.55,357.45 L349.3,349.92 L350.05,353.77 L350.8,359.53 L351.55,368.62 L352.3,347.71 L353.05,350.69 L353.8,348.34 L354.55,357.58 L355.3,346.18 L356.05,349.83 L356.8,352.27 L357.55,346.55 L358.3,346.46 L359.05,349.04 L359.8,339.39 L360.55,342.96 L361.3,348.72 L362.05,351.74 L362.8,349.57 L363.55,340.12 L364.3,347.48 L365.05,354.57 L365.8,352.92 L366.55,349.01 L367.3,344.08 L368.05,352.66 L368.8,345.41 L369.55,341.75 L370.3,343.66 L371.05,356.49 L371.8,349.14 L372.55,354.36 L373.3,344.62 L374.05,352.61 L374.8,343.45 L375.55,345.8 L376.3,360.9 L377.05,350.69 L377.8,343.1 L378.55,345.28 L379.3,347.42 L380.05,352.31 L380.8,342.22 L381.55,334.71 L382.3,342.95 L383.05,344.41 L383.8,344.71 L384.55,351.47 L385.3,345.42 L386.05,348.05 L386.8,336.7 L387.55,347.87 L388.3,354.74 L389.05,346.81 L389.8,343.54 L390.55,342.7 L391.3,351.91 L392.05,335.9 L392.8,340.37 L393.55,343.41 L394.3,344.77 L395.05,337.64 L395.8,341.67 L396.55,337.99 L397.3,340.01 L398.05,338.25 L398.8,332.1 L399.55,338.3 L400.3,343.21 L401.05,332.21 L401.8,336.12 L402.55,341.07 L403.3,330.7 L404.05,337.66 L404.8,330.14 L405.55,342.56 L406.3,349.09 L407.05,347.09 L407.8,333.79 L408.55,339.04 L409.3,335.14 L410.05,334.73 L410.8,342.81 L411.55,325.87 L412.3,339.34 L413.05,332.64 L413.8,340.79 L414.55,333.41 L415.3,328.12 L416.05,333.34 L416.8,335.71 L417.55,331.36 L418.3,333.7 L419.05,327.56 L419.8,317.94 L420.55,335.26 L421.3,333.82 L422.05,330.36 L422.8,329.64 L423.55,335 L424.3,326.08 L425.05,324.39 L425.8,327.15 L426.55,334.91 L427.3,319.73 L428.05,334.47 L428.8,323.63 L429.55,320.74 L430.3,334.23 L431.05,326.15 L431.8,318.97 L432.55,324.23 L433.3,331.51 L434.05,332.82 L434.8,323.24 L435.55,327.87 L436.3,329.46 L437.05,321.39 L437.8,327 L438.55,324.56 L439.3,321.45 L440.05,321.52 L440.8,324.57 L441.55,324.17 L442.3,320.54 L443.05,321.17 L443.8,329.92 L444.55,324.52 L445.3,328.24 L446.05,329.91 L446.8,326.18 L447.55,335.77 L448.3,317.64 L449.05,326.95 L449.8,320.25 L450.55,332.7 L451.3,331.64 L452.05,310.29 L452.8,315.85 L453.55,325.17 L454.3,325.75 L455.05,325.29 L455.8,320.46 L456.55,323.37 L457.3,324.37 L458.05,320 L458.8,326.27 L459.55,307.07 L460.3,323.73 L461.05,313.92 L461.8,325.36 L462.55,318.35 L463.3,314.4 L464.05,321.6 L464.8,314.03 L465.55,313.91 L466.3,310.01" fill="none" stroke="#ee1c24" stroke-width="1.5" stroke-linejoin="bevel"/>
<path d="M327.4,230.2 H348.6" stroke="#111" stroke-width="1.6"/>
<path d="M327.4,244.9 H348.6" stroke="#e8141c" stroke-width="1.6"/>
<text x="352" y="234.2" font-size="10.3" text-anchor="start" >ZFC</text>
<text x="352.7" y="248.6" font-size="10.3" text-anchor="start" >FC</text>
</svg></body></html>
